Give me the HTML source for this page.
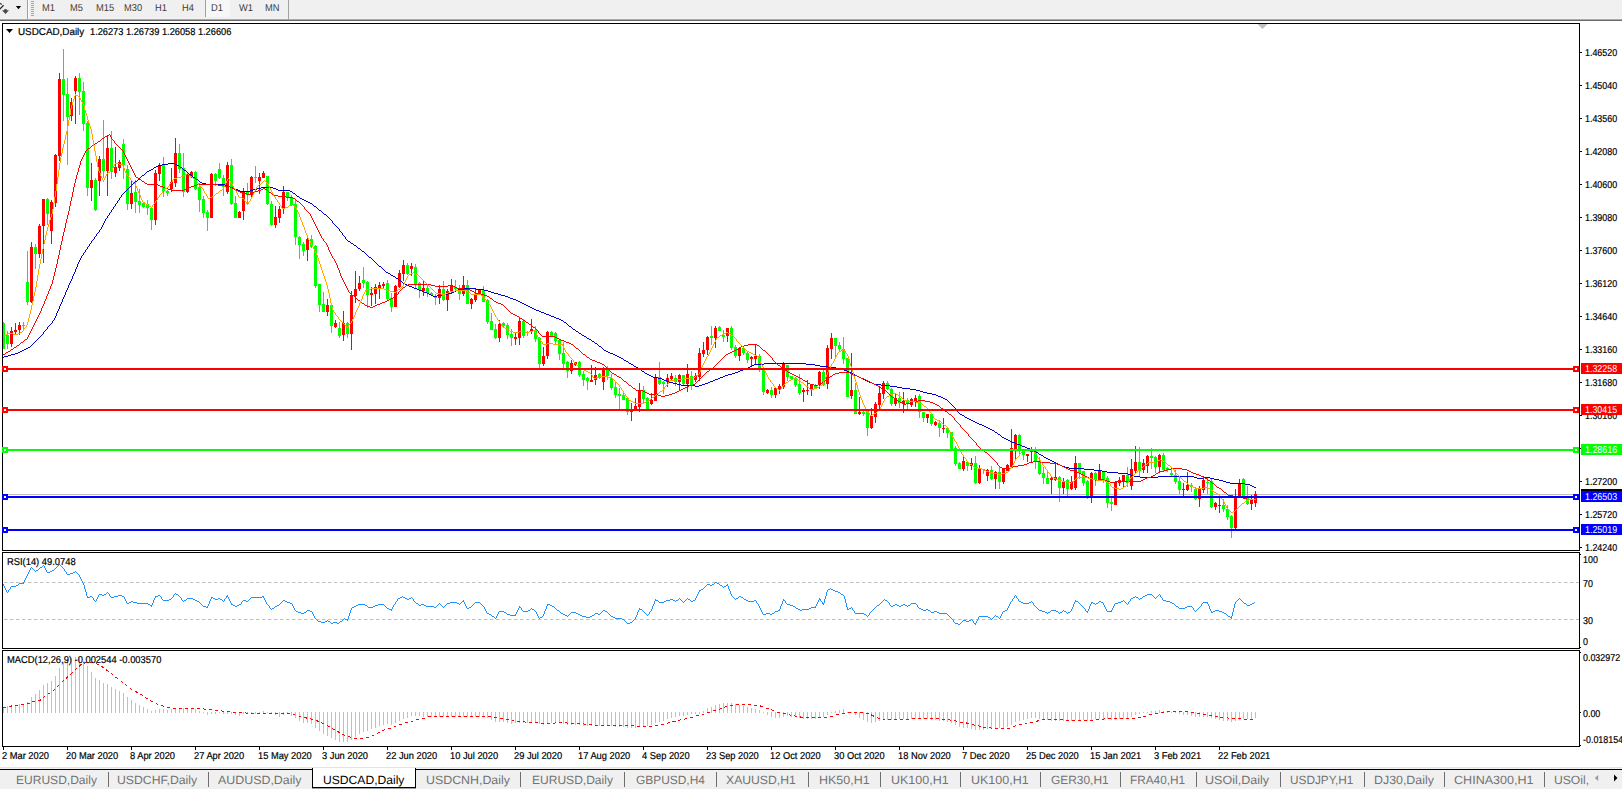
<!DOCTYPE html>
<html lang="en"><head><meta charset="utf-8"><title>USDCAD,Daily</title>
<style>
html,body{margin:0;padding:0;background:#fff;}
body{text-rendering:geometricPrecision;width:1622px;height:789px;overflow:hidden;position:relative;font-family:"Liberation Sans",sans-serif;font-size:9.3px;color:#000;}
#tb{position:absolute;left:0;top:0;width:1622px;height:18px;background:#f0f0f0;z-index:2;}
#tb span{position:absolute;top:2px;height:14px;line-height:14px;font-size:10px;transform:scaleX(0.93);transform-origin:0 0;color:#3c3c3c;white-space:nowrap;}
#tb .sep{position:absolute;top:0;width:1px;height:17px;background:#a0a0a0;z-index:3;}
#tbl1{position:absolute;left:0;top:18px;width:1622px;height:1px;background:#f4f4f4;}
#tbl2{position:absolute;left:0;top:19px;width:1622px;height:2px;background:linear-gradient(#a8a8a8 0,#a8a8a8 50%,#6c6c6c 50%,#6c6c6c 100%);}
.pane{position:absolute;left:2px;width:1576px;border:1px solid #000;background:#fff;box-sizing:content-box;}
.lbl{-webkit-text-stroke:0.2px #000;position:absolute;white-space:nowrap;font-size:10px;line-height:12px;height:12px;transform:scaleX(0.935);transform-origin:0 0;}
.ax{-webkit-text-stroke:0.2px #000;position:absolute;left:1585px;white-space:nowrap;font-size:10px;line-height:12px;height:12px;transform:scaleX(0.89);transform-origin:0 0;}
.tick{position:absolute;left:1580px;width:2px;height:1px;background:#000;}
.plab{position:absolute;left:1581px;width:41px;height:11px;color:#fff;white-space:nowrap;}
.plab span{position:absolute;left:4px;top:1px;font-size:10px;line-height:11px;transform:scaleX(0.89);transform-origin:0 0;}
.dt{-webkit-text-stroke:0.2px #000;position:absolute;top:751px;white-space:nowrap;font-size:10px;line-height:12px;transform:scaleX(0.93);transform-origin:0 0;}
.dtick{position:absolute;top:747px;width:1px;height:3px;background:#000;}
#tabs{position:absolute;left:0;top:767px;width:1622px;height:22px;background:#f0f0f0;}
#tabs .top1{position:absolute;left:0;top:0;width:1622px;height:1px;background:#e3e3e3;}
#tabs .top2{position:absolute;left:0;top:2px;width:1622px;height:1px;background:#000;}
#tabs .t{position:absolute;top:5px;transform-origin:0 0;height:17px;line-height:17px;font-size:12px;color:#737373;white-space:nowrap;}
#tabs .s{position:absolute;top:5px;width:1px;height:15px;background:#6e6e6e;}
#tabs .act{position:absolute;left:312px;top:1px;width:102px;height:19px;background:#fff;border:1px solid #000;border-top:none;box-sizing:content-box;box-shadow:0 1px 0 #a0a0a0;}
svg{position:absolute;left:0;top:0;}
</style></head><body>
<div id="tb">
<svg width="40" height="19" viewBox="0 0 40 19"><path d="M-0.5 9.3 L3.6 5.3" stroke="#2a2a2a" stroke-width="1.3" fill="none"/><path d="M0 3.2 L1.8 4.4" stroke="#3a3a3a" stroke-width="1.2" fill="none"/><path d="M2 10.2 L4.4 10.2 L4.4 9 L6.6 9 L6.6 10.2 L9 10.2 L5.5 13.9 Z" fill="#484848"/><path d="M15.9 6 L21.1 6 L18.5 9.2 Z" fill="#000"/></svg>
<div class="sep" style="left:27px;height:19px"></div><div class="sep" style="left:28px;height:18px;background:#fff"></div>
<svg width="40" height="19" viewBox="0 0 40 19" style="left:0"><g stroke="#a6a6a6" stroke-width="1"><line x1="31" x2="34" y1="1.5" y2="1.5"/><line x1="31" x2="34" y1="3.5" y2="3.5"/><line x1="31" x2="34" y1="5.5" y2="5.5"/><line x1="31" x2="34" y1="7.5" y2="7.5"/><line x1="31" x2="34" y1="9.5" y2="9.5"/><line x1="31" x2="34" y1="11.5" y2="11.5"/><line x1="31" x2="34" y1="13.5" y2="13.5"/><line x1="31" x2="34" y1="15.5" y2="15.5"/></g></svg>
<div style="position:absolute;left:206px;top:0;width:24px;height:17px;background:#f7f7f7;"></div>
<div class="sep" style="left:205px"></div>
<div class="sep" style="left:288px;height:19px"></div>
<span style="left:42px">M1</span>
<span style="left:70px">M5</span>
<span style="left:96px">M15</span>
<span style="left:124px">M30</span>
<span style="left:155px">H1</span>
<span style="left:182px">H4</span>
<span style="left:211px">D1</span>
<span style="left:239px">W1</span>
<span style="left:265px">MN</span>
</div><div id="tbl1"></div><div id="tbl2"></div>
<div class="pane" style="top:23px;height:526px"></div>
<div class="pane" style="top:552px;height:95px"></div>
<div class="pane" style="top:650px;height:95px"></div>
<svg width="1622" height="789" viewBox="0 0 1622 789" shape-rendering="crispEdges">
<defs><clipPath id="cm"><rect x="3" y="24" width="1576" height="526"/></clipPath><clipPath id="cr"><rect x="3" y="553" width="1576" height="95"/></clipPath><clipPath id="cd"><rect x="3" y="651" width="1576" height="95"/></clipPath></defs>
<g clip-path="url(#cm)">
<rect x="3" y="494" width="1576" height="1" fill="#c0c0c0"/>
<path fill="#00ff00" d="M3 322h1V349h-1zM7 331h1V349h-1zM23 322h1V329h-1zM27 251h1V305h-1zM35 244h1V269h-1zM47 198h1V225h-1zM63 49h1V121h-1zM67 78h1V165h-1zM79 73h1V115h-1zM83 82h1V131h-1zM87 121h1V196h-1zM95 178h1V211h-1zM103 120h1V178h-1zM111 131h1V179h-1zM123 139h1V179h-1zM127 165h1V210h-1zM135 180h1V213h-1zM139 189h1V213h-1zM143 202h1V208h-1zM147 200h1V215h-1zM151 207h1V230h-1zM163 157h1V197h-1zM167 190h1V196h-1zM179 144h1V173h-1zM183 153h1V197h-1zM195 171h1V190h-1zM199 183h1V212h-1zM203 196h1V218h-1zM207 210h1V231h-1zM215 173h1V186h-1zM219 163h1V179h-1zM223 175h1V196h-1zM231 159h1V205h-1zM235 196h1V218h-1zM247 183h1V204h-1zM255 166h1V183h-1zM267 176h1V205h-1zM271 201h1V226h-1zM287 192h1V201h-1zM291 195h1V206h-1zM295 200h1V245h-1zM299 236h1V259h-1zM303 242h1V256h-1zM311 235h1V248h-1zM315 245h1V288h-1zM319 284h1V312h-1zM323 292h1V312h-1zM331 304h1V333h-1zM339 322h1V338h-1zM347 322h1V338h-1zM363 267h1V288h-1zM367 281h1V308h-1zM387 280h1V300h-1zM391 293h1V312h-1zM407 263h1V275h-1zM415 264h1V288h-1zM419 282h1V298h-1zM427 284h1V297h-1zM431 292h1V296h-1zM435 294h1V305h-1zM443 281h1V301h-1zM455 280h1V290h-1zM459 285h1V300h-1zM467 280h1V304h-1zM483 286h1V302h-1zM487 299h1V324h-1zM491 313h1V330h-1zM495 324h1V339h-1zM503 322h1V327h-1zM507 323h1V339h-1zM511 329h1V346h-1zM523 319h1V338h-1zM527 331h1V336h-1zM535 326h1V342h-1zM539 337h1V368h-1zM551 331h1V336h-1zM555 332h1V344h-1zM559 339h1V360h-1zM563 342h1V368h-1zM567 361h1V378h-1zM579 361h1V377h-1zM583 371h1V386h-1zM587 377h1V390h-1zM599 373h1V379h-1zM607 366h1V380h-1zM611 374h1V390h-1zM615 382h1V398h-1zM619 388h1V409h-1zM623 391h1V400h-1zM627 397h1V415h-1zM643 386h1V403h-1zM647 397h1V409h-1zM659 362h1V385h-1zM663 381h1V394h-1zM675 375h1V386h-1zM683 375h1V385h-1zM691 371h1V390h-1zM711 326h1V345h-1zM719 326h1V331h-1zM723 330h1V342h-1zM731 326h1V350h-1zM735 345h1V358h-1zM743 347h1V355h-1zM747 352h1V363h-1zM759 354h1V372h-1zM763 369h1V395h-1zM771 387h1V398h-1zM787 365h1V381h-1zM791 376h1V380h-1zM795 377h1V387h-1zM799 374h1V395h-1zM815 384h1V388h-1zM823 370h1V386h-1zM835 338h1V357h-1zM839 342h1V352h-1zM843 337h1V364h-1zM847 358h1V397h-1zM855 383h1V414h-1zM863 411h1V416h-1zM867 410h1V436h-1zM887 381h1V390h-1zM891 388h1V406h-1zM899 392h1V408h-1zM907 398h1V411h-1zM919 394h1V418h-1zM923 412h1V422h-1zM931 414h1V426h-1zM939 420h1V437h-1zM947 428h1V438h-1zM951 432h1V449h-1zM955 446h1V466h-1zM959 462h1V469h-1zM967 461h1V471h-1zM975 456h1V484h-1zM983 469h1V474h-1zM991 466h1V480h-1zM999 467h1V489h-1zM1019 434h1V454h-1zM1023 450h1V460h-1zM1035 447h1V469h-1zM1039 457h1V475h-1zM1043 467h1V484h-1zM1047 470h1V484h-1zM1059 476h1V502h-1zM1067 479h1V496h-1zM1079 463h1V479h-1zM1083 471h1V486h-1zM1087 480h1V499h-1zM1095 472h1V486h-1zM1103 471h1V483h-1zM1107 476h1V508h-1zM1111 497h1V511h-1zM1127 467h1V487h-1zM1139 447h1V477h-1zM1151 448h1V469h-1zM1155 456h1V473h-1zM1163 453h1V471h-1zM1167 467h1V472h-1zM1171 469h1V477h-1zM1175 470h1V484h-1zM1179 477h1V494h-1zM1191 483h1V492h-1zM1195 487h1V500h-1zM1207 478h1V494h-1zM1211 479h1V508h-1zM1223 499h1V512h-1zM1227 505h1V520h-1zM1231 515h1V538h-1zM1243 478h1V499h-1zM1247 486h1V505h-1zM2 323h3V349h-3zM6 335h3V344h-3zM22 325h3V326h-3zM26 282h3V302h-3zM34 247h3V254h-3zM46 199h3V214h-3zM62 79h3V95h-3zM66 94h3V117h-3zM78 78h3V92h-3zM82 91h3V124h-3zM86 123h3V188h-3zM94 180h3V210h-3zM102 159h3V171h-3zM110 148h3V172h-3zM122 144h3V165h-3zM126 169h3V204h-3zM134 192h3V202h-3zM138 201h3V205h-3zM142 203h3V207h-3zM146 204h3V208h-3zM150 208h3V220h-3zM162 165h3V191h-3zM166 191h3V193h-3zM178 153h3V169h-3zM182 168h3V192h-3zM194 172h3V189h-3zM198 187h3V200h-3zM202 199h3V213h-3zM206 212h3V218h-3zM214 174h3V181h-3zM218 169h3V178h-3zM222 178h3V187h-3zM230 165h3V204h-3zM234 203h3V218h-3zM246 192h3V195h-3zM254 177h3V178h-3zM266 176h3V204h-3zM270 204h3V225h-3zM286 192h3V198h-3zM290 198h3V205h-3zM294 204h3V237h-3zM298 237h3V245h-3zM302 244h3V251h-3zM310 239h3V247h-3zM314 246h3V286h-3zM318 284h3V305h-3zM322 304h3V312h-3zM330 305h3V326h-3zM338 328h3V336h-3zM346 323h3V334h-3zM362 280h3V283h-3zM366 282h3V295h-3zM386 283h3V299h-3zM390 298h3V307h-3zM406 265h3V274h-3zM414 267h3V284h-3zM418 283h3V290h-3zM426 288h3V293h-3zM430 293h3V295h-3zM434 296h3V298h-3zM442 289h3V300h-3zM454 287h3V289h-3zM458 289h3V294h-3zM466 285h3V304h-3zM482 290h3V302h-3zM486 300h3V322h-3zM490 321h3V330h-3zM494 329h3V338h-3zM502 323h3V326h-3zM506 325h3V335h-3zM510 334h3V338h-3zM522 321h3V336h-3zM526 332h3V333h-3zM534 330h3V339h-3zM538 338h3V364h-3zM550 332h3V336h-3zM554 333h3V341h-3zM558 340h3V354h-3zM562 353h3V364h-3zM566 362h3V371h-3zM578 362h3V375h-3zM582 374h3V380h-3zM586 378h3V381h-3zM598 374h3V378h-3zM606 370h3V376h-3zM610 378h3V388h-3zM614 387h3V395h-3zM618 394h3V396h-3zM622 395h3V400h-3zM626 398h3V412h-3zM642 390h3V399h-3zM646 398h3V409h-3zM658 377h3V384h-3zM662 382h3V384h-3zM674 378h3V382h-3zM682 375h3V384h-3zM690 376h3V385h-3zM710 336h3V338h-3zM718 327h3V331h-3zM722 335h3V337h-3zM730 328h3V348h-3zM734 347h3V356h-3zM742 348h3V353h-3zM746 353h3V360h-3zM758 356h3V370h-3zM762 370h3V392h-3zM770 390h3V395h-3zM786 365h3V377h-3zM790 376h3V379h-3zM794 378h3V385h-3zM798 384h3V393h-3zM814 385h3V388h-3zM822 372h3V385h-3zM834 338h3V346h-3zM838 345h3V349h-3zM842 349h3V359h-3zM846 358h3V397h-3zM854 390h3V414h-3zM862 412h3V414h-3zM866 411h3V428h-3zM886 383h3V389h-3zM890 389h3V404h-3zM898 398h3V403h-3zM906 400h3V404h-3zM918 396h3V412h-3zM922 412h3V418h-3zM930 414h3V424h-3zM938 423h3V428h-3zM946 428h3V433h-3zM950 432h3V449h-3zM954 448h3V464h-3zM958 463h3V469h-3zM966 462h3V466h-3zM974 463h3V483h-3zM982 469h3V470h-3zM990 470h3V479h-3zM998 472h3V482h-3zM1018 435h3V449h-3zM1022 451h3V455h-3zM1034 451h3V462h-3zM1038 462h3V474h-3zM1042 473h3V478h-3zM1046 478h3V484h-3zM1058 477h3V488h-3zM1066 480h3V489h-3zM1078 463h3V473h-3zM1082 471h3V483h-3zM1086 481h3V496h-3zM1094 473h3V480h-3zM1102 472h3V480h-3zM1106 478h3V503h-3zM1110 502h3V504h-3zM1126 475h3V483h-3zM1138 462h3V471h-3zM1150 456h3V458h-3zM1154 457h3V467h-3zM1162 455h3V470h-3zM1166 468h3V470h-3zM1170 473h3V475h-3zM1174 475h3V482h-3zM1178 481h3V490h-3zM1190 485h3V487h-3zM1194 489h3V499h-3zM1206 482h3V483h-3zM1210 481h3V507h-3zM1222 505h3V509h-3zM1226 509h3V517h-3zM1230 516h3V528h-3zM1242 479h3V498h-3zM1246 498h3V504h-3z"/>
<path fill="#ff0000" d="M11 327h1V347h-1zM15 323h1V334h-1zM19 322h1V335h-1zM31 242h1V303h-1zM39 224h1V258h-1zM43 199h1V263h-1zM51 200h1V244h-1zM55 154h1V207h-1zM59 73h1V161h-1zM71 98h1V121h-1zM75 76h1V124h-1zM91 163h1V201h-1zM99 156h1V196h-1zM107 136h1V196h-1zM115 147h1V177h-1zM119 160h1V171h-1zM131 180h1V209h-1zM155 170h1V225h-1zM159 163h1V181h-1zM171 168h1V192h-1zM175 138h1V187h-1zM187 172h1V193h-1zM191 171h1V178h-1zM211 173h1V218h-1zM227 162h1V194h-1zM239 211h1V218h-1zM243 188h1V220h-1zM251 176h1V197h-1zM259 173h1V194h-1zM263 171h1V178h-1zM275 206h1V228h-1zM279 206h1V223h-1zM283 186h1V214h-1zM307 237h1V261h-1zM327 299h1V316h-1zM335 320h1V328h-1zM343 311h1V341h-1zM351 291h1V350h-1zM355 271h1V303h-1zM359 276h1V291h-1zM371 287h1V306h-1zM375 284h1V304h-1zM379 282h1V299h-1zM383 282h1V289h-1zM395 285h1V307h-1zM399 270h1V288h-1zM403 260h1V281h-1zM411 263h1V276h-1zM423 281h1V296h-1zM439 285h1V304h-1zM447 289h1V311h-1zM451 279h1V294h-1zM463 276h1V296h-1zM471 298h1V309h-1zM475 289h1V302h-1zM479 290h1V295h-1zM499 320h1V342h-1zM515 332h1V345h-1zM519 317h1V345h-1zM531 319h1V334h-1zM543 347h1V366h-1zM547 331h1V359h-1zM571 360h1V374h-1zM575 362h1V366h-1zM591 365h1V382h-1zM595 367h1V385h-1zM603 367h1V390h-1zM631 403h1V421h-1zM635 398h1V410h-1zM639 383h1V412h-1zM651 393h1V405h-1zM655 374h1V401h-1zM667 374h1V387h-1zM671 373h1V380h-1zM679 374h1V390h-1zM687 364h1V392h-1zM695 373h1V382h-1zM699 348h1V381h-1zM703 342h1V357h-1zM707 336h1V355h-1zM715 326h1V348h-1zM727 328h1V342h-1zM739 347h1V361h-1zM751 356h1V366h-1zM755 344h1V364h-1zM767 389h1V394h-1zM775 388h1V398h-1zM779 384h1V394h-1zM783 362h1V389h-1zM803 388h1V402h-1zM807 380h1V395h-1zM811 385h1V396h-1zM819 371h1V389h-1zM827 345h1V389h-1zM831 333h1V359h-1zM851 353h1V399h-1zM859 397h1V415h-1zM871 408h1V429h-1zM875 402h1V423h-1zM879 386h1V409h-1zM883 381h1V399h-1zM895 393h1V406h-1zM903 392h1V413h-1zM911 398h1V407h-1zM915 395h1V407h-1zM927 414h1V423h-1zM935 421h1V426h-1zM943 418h1V433h-1zM963 456h1V471h-1zM971 458h1V470h-1zM979 465h1V484h-1zM987 469h1V481h-1zM995 471h1V489h-1zM1003 468h1V484h-1zM1007 464h1V471h-1zM1011 429h1V468h-1zM1015 434h1V460h-1zM1027 454h1V462h-1zM1031 447h1V463h-1zM1051 476h1V494h-1zM1055 463h1V481h-1zM1063 478h1V494h-1zM1071 476h1V490h-1zM1075 456h1V490h-1zM1091 472h1V503h-1zM1099 464h1V481h-1zM1115 481h1V505h-1zM1119 477h1V486h-1zM1123 475h1V488h-1zM1131 459h1V490h-1zM1135 446h1V474h-1zM1143 459h1V473h-1zM1147 455h1V473h-1zM1159 454h1V472h-1zM1183 483h1V496h-1zM1187 472h1V491h-1zM1199 486h1V507h-1zM1203 476h1V493h-1zM1215 502h1V510h-1zM1219 496h1V513h-1zM1235 489h1V529h-1zM1239 479h1V496h-1zM1251 495h1V510h-1zM1255 491h1V507h-1zM10 331h3V344h-3zM14 330h3V332h-3zM18 325h3V330h-3zM30 247h3V302h-3zM38 226h3V254h-3zM42 199h3V226h-3zM50 202h3V231h-3zM54 155h3V203h-3zM58 79h3V156h-3zM70 102h3V116h-3zM74 78h3V91h-3zM90 180h3V188h-3zM98 159h3V181h-3zM106 148h3V171h-3zM114 167h3V173h-3zM118 162h3V168h-3zM130 193h3V204h-3zM154 173h3V220h-3zM158 166h3V174h-3zM170 182h3V189h-3zM174 153h3V183h-3zM186 175h3V192h-3zM190 172h3V177h-3zM210 174h3V218h-3zM226 165h3V192h-3zM238 212h3V218h-3zM242 192h3V211h-3zM250 177h3V195h-3zM258 177h3V181h-3zM262 173h3V178h-3zM274 217h3V225h-3zM278 209h3V218h-3zM282 192h3V209h-3zM306 239h3V250h-3zM326 305h3V312h-3zM334 323h3V327h-3zM342 323h3V335h-3zM350 295h3V334h-3zM354 289h3V296h-3zM358 283h3V289h-3zM370 293h3V295h-3zM374 287h3V294h-3zM378 285h3V288h-3zM382 284h3V286h-3zM394 286h3V307h-3zM398 273h3V287h-3zM402 265h3V274h-3zM410 266h3V269h-3zM422 288h3V291h-3zM438 289h3V298h-3zM446 291h3V300h-3zM450 286h3V292h-3zM462 285h3V294h-3zM470 299h3V304h-3zM474 294h3V300h-3zM478 290h3V294h-3zM498 324h3V338h-3zM514 337h3V339h-3zM518 321h3V338h-3zM530 329h3V331h-3zM542 356h3V364h-3zM546 332h3V356h-3zM570 363h3V371h-3zM574 362h3V365h-3zM590 380h3V382h-3zM594 375h3V380h-3zM602 368h3V382h-3zM630 409h3V412h-3zM634 406h3V410h-3zM638 390h3V407h-3zM650 400h3V404h-3zM654 378h3V401h-3zM666 378h3V382h-3zM670 376h3V379h-3zM678 375h3V382h-3zM686 374h3V384h-3zM694 376h3V380h-3zM698 353h3V377h-3zM702 350h3V354h-3zM706 337h3V350h-3zM714 328h3V338h-3zM726 328h3V336h-3zM738 348h3V356h-3zM750 357h3V359h-3zM754 356h3V359h-3zM766 390h3V393h-3zM774 388h3V395h-3zM778 386h3V390h-3zM782 364h3V387h-3zM802 390h3V392h-3zM806 390h3V391h-3zM810 385h3V389h-3zM818 372h3V385h-3zM826 348h3V384h-3zM830 338h3V349h-3zM850 390h3V396h-3zM858 412h3V414h-3zM870 416h3V428h-3zM874 404h3V417h-3zM878 393h3V405h-3zM882 383h3V394h-3zM894 398h3V404h-3zM902 401h3V404h-3zM910 399h3V405h-3zM914 398h3V401h-3zM926 414h3V418h-3zM934 422h3V425h-3zM942 428h3V429h-3zM962 461h3V469h-3zM970 463h3V466h-3zM978 469h3V483h-3zM986 470h3V476h-3zM994 472h3V479h-3zM1002 469h3V482h-3zM1006 465h3V471h-3zM1010 448h3V467h-3zM1014 435h3V449h-3zM1026 454h3V456h-3zM1030 450h3V452h-3zM1050 478h3V480h-3zM1054 477h3V480h-3zM1062 482h3V488h-3zM1070 482h3V489h-3zM1074 463h3V488h-3zM1090 473h3V496h-3zM1098 471h3V481h-3zM1114 482h3V505h-3zM1118 480h3V483h-3zM1122 475h3V482h-3zM1130 469h3V486h-3zM1134 462h3V471h-3zM1142 463h3V470h-3zM1146 456h3V466h-3zM1158 455h3V467h-3zM1182 489h3V490h-3zM1186 485h3V490h-3zM1198 489h3V499h-3zM1202 480h3V490h-3zM1214 503h3V507h-3zM1218 505h3V506h-3zM1234 496h3V528h-3zM1238 484h3V496h-3zM1250 500h3V504h-3zM1254 494h3V503h-3z"/>
<path fill="#0000cd" d="M43 332h1v2h-1zM47 327h1v2h-1zM52 321h1v2h-1zM54 318h1v2h-1zM55 316h1v2h-1zM56 313h1v3h-1zM57 311h1v2h-1zM58 309h1v2h-1zM59 306h1v3h-1zM60 304h1v2h-1zM61 302h1v2h-1zM62 299h1v3h-1zM63 297h1v2h-1zM64 295h1v2h-1zM65 292h1v3h-1zM66 290h1v2h-1zM67 288h1v2h-1zM68 285h1v3h-1zM69 283h1v2h-1zM70 281h1v2h-1zM71 279h1v2h-1zM72 276h1v3h-1zM73 274h1v2h-1zM74 272h1v2h-1zM75 269h1v3h-1zM76 267h1v2h-1zM77 264h1v3h-1zM78 262h1v2h-1zM79 260h1v2h-1zM80 258h1v2h-1zM81 256h1v2h-1zM83 253h1v2h-1zM85 250h1v2h-1zM87 247h1v2h-1zM89 244h1v2h-1zM91 241h1v2h-1zM94 237h1v2h-1zM96 234h1v2h-1zM99 230h1v2h-1zM101 227h1v2h-1zM102 225h1v2h-1zM103 223h1v2h-1zM104 221h1v2h-1zM105 219h1v2h-1zM107 216h1v2h-1zM109 213h1v2h-1zM111 210h1v2h-1zM113 207h1v2h-1zM115 204h1v2h-1zM117 201h1v2h-1zM119 198h1v2h-1zM121 195h1v2h-1zM332 221h1v2h-1zM339 229h1v2h-1zM342 233h1v2h-1zM345 237h1v2h-1zM956 409h1v2h-1zM168 163h7v1h-7zM162 164h6v1h-6zM175 164h2v1h-2zM158 165h4v1h-4zM177 165h2v1h-2zM156 166h2v1h-2zM179 166h1v1h-1zM154 167h2v1h-2zM180 167h2v1h-2zM153 168h1v1h-1zM182 168h1v1h-1zM151 169h2v1h-2zM183 169h1v1h-1zM149 170h2v1h-2zM184 170h2v1h-2zM147 171h2v1h-2zM186 171h1v1h-1zM146 172h1v1h-1zM187 172h1v1h-1zM145 173h1v1h-1zM188 173h1v1h-1zM144 174h1v1h-1zM189 174h2v1h-2zM142 175h2v1h-2zM191 175h1v1h-1zM141 176h1v1h-1zM192 176h1v1h-1zM140 177h1v1h-1zM193 177h2v1h-2zM139 178h1v1h-1zM195 178h1v1h-1zM138 179h1v1h-1zM196 179h2v1h-2zM137 180h1v1h-1zM198 180h1v1h-1zM135 181h2v1h-2zM199 181h1v1h-1zM134 182h1v1h-1zM200 182h2v1h-2zM133 183h1v1h-1zM202 183h4v1h-4zM132 184h1v1h-1zM206 184h19v1h-19zM131 185h1v1h-1zM225 185h3v1h-3zM130 186h1v1h-1zM228 186h2v1h-2zM129 187h1v1h-1zM230 187h3v1h-3zM261 187h12v1h-12zM128 188h1v1h-1zM233 188h2v1h-2zM257 188h4v1h-4zM273 188h3v1h-3zM127 189h1v1h-1zM235 189h3v1h-3zM253 189h4v1h-4zM276 189h2v1h-2zM126 190h1v1h-1zM238 190h2v1h-2zM250 190h3v1h-3zM278 190h12v1h-12zM125 191h1v1h-1zM240 191h10v1h-10zM290 191h2v1h-2zM124 192h1v1h-1zM292 192h1v1h-1zM123 193h1v1h-1zM293 193h2v1h-2zM122 194h1v1h-1zM295 194h1v1h-1zM296 195h1v1h-1zM297 196h2v1h-2zM120 197h1v1h-1zM299 197h1v1h-1zM300 198h2v1h-2zM302 199h2v1h-2zM118 200h1v1h-1zM304 200h2v1h-2zM306 201h2v1h-2zM308 202h2v1h-2zM116 203h1v1h-1zM310 203h2v1h-2zM312 204h1v1h-1zM313 205h1v1h-1zM114 206h1v1h-1zM314 206h2v1h-2zM316 207h1v1h-1zM317 208h1v1h-1zM112 209h1v1h-1zM318 209h1v1h-1zM319 210h2v1h-2zM321 211h1v1h-1zM110 212h1v1h-1zM322 212h1v1h-1zM323 213h1v1h-1zM324 214h2v1h-2zM108 215h1v1h-1zM326 215h1v1h-1zM327 216h1v1h-1zM328 217h1v1h-1zM106 218h1v1h-1zM329 218h1v1h-1zM330 219h1v1h-1zM331 220h1v1h-1zM333 223h1v1h-1zM334 224h1v1h-1zM335 225h1v1h-1zM336 226h1v1h-1zM337 227h1v1h-1zM338 228h1v1h-1zM100 229h1v1h-1zM340 231h1v1h-1zM98 232h1v1h-1zM341 232h1v1h-1zM97 233h1v1h-1zM343 235h1v1h-1zM95 236h1v1h-1zM344 236h1v1h-1zM93 239h1v1h-1zM346 239h1v1h-1zM92 240h1v1h-1zM347 240h1v1h-1zM348 241h2v1h-2zM350 242h1v1h-1zM90 243h1v1h-1zM351 243h2v1h-2zM353 244h1v1h-1zM354 245h2v1h-2zM88 246h1v1h-1zM356 246h1v1h-1zM357 247h1v1h-1zM358 248h2v1h-2zM86 249h1v1h-1zM360 249h1v1h-1zM361 250h1v1h-1zM362 251h2v1h-2zM84 252h1v1h-1zM364 252h1v1h-1zM365 253h1v1h-1zM366 254h1v1h-1zM82 255h1v1h-1zM367 255h1v1h-1zM368 256h1v1h-1zM369 257h2v1h-2zM371 258h1v1h-1zM372 259h1v1h-1zM373 260h1v1h-1zM374 261h1v1h-1zM375 262h1v1h-1zM376 263h1v1h-1zM377 264h1v1h-1zM378 265h1v1h-1zM379 266h2v1h-2zM381 267h1v1h-1zM382 268h1v1h-1zM383 269h1v1h-1zM384 270h1v1h-1zM385 271h1v1h-1zM386 272h2v1h-2zM388 273h2v1h-2zM390 274h1v1h-1zM391 275h2v1h-2zM393 276h2v1h-2zM395 277h1v1h-1zM396 278h2v1h-2zM398 279h1v1h-1zM399 280h2v1h-2zM401 281h1v1h-1zM402 282h1v1h-1zM403 283h2v1h-2zM405 284h2v1h-2zM407 285h2v1h-2zM409 286h3v1h-3zM412 287h2v1h-2zM414 288h3v1h-3zM464 288h12v1h-12zM417 289h2v1h-2zM458 289h6v1h-6zM476 289h8v1h-8zM419 290h3v1h-3zM456 290h2v1h-2zM484 290h4v1h-4zM422 291h2v1h-2zM454 291h2v1h-2zM488 291h3v1h-3zM424 292h3v1h-3zM452 292h2v1h-2zM491 292h3v1h-3zM427 293h2v1h-2zM448 293h4v1h-4zM494 293h4v1h-4zM429 294h2v1h-2zM442 294h6v1h-6zM498 294h3v1h-3zM431 295h2v1h-2zM437 295h5v1h-5zM501 295h4v1h-4zM433 296h4v1h-4zM505 296h3v1h-3zM508 297h2v1h-2zM510 298h3v1h-3zM513 299h3v1h-3zM516 300h2v1h-2zM518 301h2v1h-2zM520 302h2v1h-2zM522 303h2v1h-2zM524 304h2v1h-2zM526 305h2v1h-2zM528 306h2v1h-2zM530 307h2v1h-2zM532 308h2v1h-2zM534 309h2v1h-2zM536 310h3v1h-3zM539 311h2v1h-2zM541 312h3v1h-3zM544 313h2v1h-2zM546 314h3v1h-3zM549 315h2v1h-2zM551 316h3v1h-3zM554 317h2v1h-2zM556 318h3v1h-3zM559 319h2v1h-2zM53 320h1v1h-1zM561 320h2v1h-2zM563 321h1v1h-1zM564 322h2v1h-2zM51 323h1v1h-1zM566 323h1v1h-1zM50 324h1v1h-1zM567 324h1v1h-1zM49 325h1v1h-1zM568 325h1v1h-1zM48 326h1v1h-1zM569 326h2v1h-2zM571 327h1v1h-1zM572 328h1v1h-1zM46 329h1v1h-1zM573 329h2v1h-2zM45 330h1v1h-1zM575 330h1v1h-1zM44 331h1v1h-1zM576 331h2v1h-2zM578 332h1v1h-1zM579 333h2v1h-2zM42 334h1v1h-1zM581 334h1v1h-1zM41 335h1v1h-1zM582 335h2v1h-2zM40 336h1v1h-1zM584 336h2v1h-2zM39 337h1v1h-1zM586 337h1v1h-1zM38 338h1v1h-1zM587 338h2v1h-2zM37 339h1v1h-1zM589 339h2v1h-2zM36 340h1v1h-1zM591 340h1v1h-1zM35 341h1v1h-1zM592 341h2v1h-2zM34 342h1v1h-1zM594 342h1v1h-1zM33 343h1v1h-1zM595 343h2v1h-2zM32 344h1v1h-1zM597 344h1v1h-1zM31 345h1v1h-1zM598 345h1v1h-1zM30 346h1v1h-1zM599 346h2v1h-2zM28 347h2v1h-2zM601 347h1v1h-1zM26 348h2v1h-2zM602 348h1v1h-1zM24 349h2v1h-2zM603 349h1v1h-1zM22 350h2v1h-2zM604 350h2v1h-2zM20 351h2v1h-2zM606 351h2v1h-2zM18 352h2v1h-2zM608 352h2v1h-2zM15 353h3v1h-3zM610 353h3v1h-3zM11 354h4v1h-4zM613 354h2v1h-2zM8 355h3v1h-3zM615 355h2v1h-2zM4 356h4v1h-4zM617 356h2v1h-2zM2 357h2v1h-2zM619 357h2v1h-2zM621 358h2v1h-2zM623 359h1v1h-1zM624 360h2v1h-2zM626 361h2v1h-2zM628 362h1v1h-1zM629 363h2v1h-2zM764 363h42v1h-42zM631 364h2v1h-2zM754 364h10v1h-10zM806 364h9v1h-9zM633 365h1v1h-1zM752 365h2v1h-2zM815 365h5v1h-5zM634 366h2v1h-2zM750 366h2v1h-2zM820 366h8v1h-8zM636 367h2v1h-2zM748 367h2v1h-2zM828 367h8v1h-8zM638 368h1v1h-1zM745 368h3v1h-3zM836 368h4v1h-4zM639 369h2v1h-2zM743 369h2v1h-2zM840 369h4v1h-4zM641 370h1v1h-1zM740 370h3v1h-3zM844 370h3v1h-3zM642 371h2v1h-2zM738 371h2v1h-2zM847 371h2v1h-2zM644 372h1v1h-1zM735 372h3v1h-3zM849 372h2v1h-2zM645 373h2v1h-2zM732 373h3v1h-3zM851 373h2v1h-2zM647 374h2v1h-2zM728 374h4v1h-4zM853 374h2v1h-2zM649 375h2v1h-2zM725 375h3v1h-3zM855 375h2v1h-2zM651 376h2v1h-2zM723 376h2v1h-2zM857 376h2v1h-2zM653 377h5v1h-5zM720 377h3v1h-3zM859 377h2v1h-2zM658 378h4v1h-4zM718 378h2v1h-2zM861 378h2v1h-2zM662 379h2v1h-2zM715 379h3v1h-3zM863 379h2v1h-2zM664 380h3v1h-3zM713 380h2v1h-2zM865 380h2v1h-2zM667 381h2v1h-2zM710 381h3v1h-3zM867 381h2v1h-2zM669 382h4v1h-4zM708 382h2v1h-2zM869 382h3v1h-3zM673 383h4v1h-4zM705 383h3v1h-3zM872 383h2v1h-2zM677 384h4v1h-4zM702 384h3v1h-3zM874 384h7v1h-7zM681 385h14v1h-14zM699 385h3v1h-3zM881 385h9v1h-9zM695 386h4v1h-4zM890 386h7v1h-7zM897 387h5v1h-5zM902 388h8v1h-8zM910 389h6v1h-6zM916 390h4v1h-4zM920 391h3v1h-3zM923 392h4v1h-4zM927 393h5v1h-5zM932 394h4v1h-4zM936 395h2v1h-2zM938 396h3v1h-3zM941 397h2v1h-2zM943 398h2v1h-2zM945 399h2v1h-2zM947 400h1v1h-1zM948 401h1v1h-1zM949 402h1v1h-1zM950 403h1v1h-1zM951 404h1v1h-1zM952 405h1v1h-1zM953 406h1v1h-1zM954 407h1v1h-1zM955 408h1v1h-1zM957 411h1v1h-1zM958 412h1v1h-1zM959 413h1v1h-1zM960 414h2v1h-2zM962 415h2v1h-2zM964 416h1v1h-1zM965 417h2v1h-2zM967 418h2v1h-2zM969 419h2v1h-2zM971 420h2v1h-2zM973 421h2v1h-2zM975 422h2v1h-2zM977 423h2v1h-2zM979 424h3v1h-3zM982 425h2v1h-2zM984 426h2v1h-2zM986 427h2v1h-2zM988 428h2v1h-2zM990 429h2v1h-2zM992 430h2v1h-2zM994 431h1v1h-1zM995 432h2v1h-2zM997 433h1v1h-1zM998 434h2v1h-2zM1000 435h1v1h-1zM1001 436h1v1h-1zM1002 437h2v1h-2zM1004 438h2v1h-2zM1006 439h2v1h-2zM1008 440h2v1h-2zM1010 441h2v1h-2zM1012 442h3v1h-3zM1015 443h2v1h-2zM1017 444h3v1h-3zM1020 445h2v1h-2zM1022 446h3v1h-3zM1025 447h2v1h-2zM1027 448h3v1h-3zM1030 449h2v1h-2zM1032 450h2v1h-2zM1034 451h2v1h-2zM1036 452h2v1h-2zM1038 453h1v1h-1zM1039 454h2v1h-2zM1041 455h2v1h-2zM1043 456h1v1h-1zM1044 457h2v1h-2zM1046 458h2v1h-2zM1048 459h2v1h-2zM1050 460h2v1h-2zM1052 461h2v1h-2zM1054 462h2v1h-2zM1056 463h2v1h-2zM1058 464h2v1h-2zM1060 465h2v1h-2zM1062 466h3v1h-3zM1065 467h4v1h-4zM1069 468h15v1h-15zM1084 469h10v1h-10zM1094 470h8v1h-8zM1102 471h5v1h-5zM1107 472h11v1h-11zM1118 473h10v1h-10zM1128 474h3v1h-3zM1131 475h3v1h-3zM1134 476h6v1h-6zM1158 476h36v1h-36zM1140 477h18v1h-18zM1194 477h3v1h-3zM1203 477h7v1h-7zM1197 478h6v1h-6zM1210 478h4v1h-4zM1214 479h5v1h-5zM1219 480h4v1h-4zM1223 481h3v1h-3zM1226 482h4v1h-4zM1230 483h15v1h-15zM1245 484h5v1h-5zM1250 485h2v1h-2zM1252 486h2v1h-2zM1254 487h2v1h-2z"/>
<path fill="#ff0000" d="M27 337h1v2h-1zM28 335h1v2h-1zM29 333h1v2h-1zM30 331h1v2h-1zM31 329h1v2h-1zM32 327h1v2h-1zM33 325h1v2h-1zM34 323h1v2h-1zM35 321h1v2h-1zM36 319h1v2h-1zM37 317h1v2h-1zM38 315h1v2h-1zM39 313h1v2h-1zM40 311h1v2h-1zM41 308h1v3h-1zM42 306h1v2h-1zM43 304h1v2h-1zM44 301h1v3h-1zM45 299h1v2h-1zM46 296h1v3h-1zM47 294h1v2h-1zM48 291h1v3h-1zM49 289h1v2h-1zM50 286h1v3h-1zM51 284h1v2h-1zM52 280h1v4h-1zM53 276h1v4h-1zM54 272h1v4h-1zM55 268h1v4h-1zM56 264h1v4h-1zM57 259h1v5h-1zM58 255h1v4h-1zM59 250h1v5h-1zM60 245h1v5h-1zM61 241h1v4h-1zM62 236h1v5h-1zM63 232h1v4h-1zM64 228h1v4h-1zM65 223h1v5h-1zM66 219h1v4h-1zM67 215h1v4h-1zM68 211h1v4h-1zM69 206h1v5h-1zM70 201h1v5h-1zM71 197h1v4h-1zM72 192h1v5h-1zM73 187h1v5h-1zM74 183h1v4h-1zM75 179h1v4h-1zM76 175h1v4h-1zM77 172h1v3h-1zM78 168h1v4h-1zM79 165h1v3h-1zM80 161h1v4h-1zM81 159h1v2h-1zM82 157h1v2h-1zM83 155h1v2h-1zM84 153h1v2h-1zM85 151h1v2h-1zM110 135h1v2h-1zM111 137h1v2h-1zM114 141h1v2h-1zM123 151h1v2h-1zM124 153h1v2h-1zM125 155h1v2h-1zM126 157h1v2h-1zM127 159h1v2h-1zM128 161h1v2h-1zM129 163h1v2h-1zM130 165h1v2h-1zM131 167h1v2h-1zM132 169h1v2h-1zM133 171h1v2h-1zM134 173h1v2h-1zM135 175h1v2h-1zM304 207h1v2h-1zM310 214h1v2h-1zM311 216h1v2h-1zM312 218h1v2h-1zM313 220h1v2h-1zM314 222h1v2h-1zM315 224h1v2h-1zM316 226h1v2h-1zM317 228h1v2h-1zM318 230h1v2h-1zM319 232h1v2h-1zM320 234h1v2h-1zM321 236h1v2h-1zM323 239h1v2h-1zM326 243h1v2h-1zM327 245h1v2h-1zM328 247h1v3h-1zM329 250h1v2h-1zM330 252h1v2h-1zM331 254h1v2h-1zM332 256h1v2h-1zM334 259h1v2h-1zM335 261h1v2h-1zM336 263h1v2h-1zM337 265h1v3h-1zM338 268h1v2h-1zM339 270h1v3h-1zM340 273h1v3h-1zM341 276h1v2h-1zM342 278h1v2h-1zM343 280h1v2h-1zM344 282h1v2h-1zM345 284h1v2h-1zM346 286h1v2h-1zM347 288h1v2h-1zM348 290h1v2h-1zM398 292h1v2h-1zM538 331h1v2h-1zM772 358h1v2h-1zM954 418h1v2h-1zM960 425h1v2h-1zM968 434h1v2h-1zM976 443h1v2h-1zM997 463h1v2h-1zM109 134h1v1h-1zM107 135h2v1h-2zM105 136h2v1h-2zM104 137h1v1h-1zM102 138h2v1h-2zM101 139h1v1h-1zM112 139h1v1h-1zM100 140h1v1h-1zM113 140h1v1h-1zM98 141h2v1h-2zM97 142h1v1h-1zM95 143h2v1h-2zM115 143h1v1h-1zM93 144h2v1h-2zM116 144h1v1h-1zM92 145h1v1h-1zM117 145h1v1h-1zM91 146h1v1h-1zM118 146h1v1h-1zM90 147h1v1h-1zM119 147h1v1h-1zM88 148h2v1h-2zM120 148h1v1h-1zM87 149h1v1h-1zM121 149h1v1h-1zM86 150h1v1h-1zM122 150h1v1h-1zM136 177h2v1h-2zM138 178h1v1h-1zM139 179h2v1h-2zM141 180h1v1h-1zM142 181h2v1h-2zM144 182h1v1h-1zM145 183h2v1h-2zM147 184h11v1h-11zM197 184h21v1h-21zM158 185h2v1h-2zM194 185h3v1h-3zM218 185h7v1h-7zM160 186h3v1h-3zM191 186h3v1h-3zM225 186h5v1h-5zM163 187h2v1h-2zM189 187h2v1h-2zM230 187h2v1h-2zM165 188h3v1h-3zM186 188h3v1h-3zM232 188h2v1h-2zM263 188h2v1h-2zM168 189h3v1h-3zM184 189h2v1h-2zM234 189h2v1h-2zM261 189h2v1h-2zM265 189h2v1h-2zM171 190h13v1h-13zM236 190h2v1h-2zM258 190h3v1h-3zM267 190h1v1h-1zM238 191h2v1h-2zM255 191h3v1h-3zM268 191h1v1h-1zM240 192h3v1h-3zM253 192h2v1h-2zM269 192h2v1h-2zM243 193h4v1h-4zM250 193h3v1h-3zM271 193h1v1h-1zM247 194h3v1h-3zM272 194h2v1h-2zM274 195h4v1h-4zM278 196h8v1h-8zM286 197h7v1h-7zM293 198h2v1h-2zM295 199h1v1h-1zM296 200h1v1h-1zM297 201h2v1h-2zM299 202h1v1h-1zM300 203h1v1h-1zM301 204h1v1h-1zM302 205h1v1h-1zM303 206h1v1h-1zM305 209h1v1h-1zM306 210h1v1h-1zM307 211h1v1h-1zM308 212h1v1h-1zM309 213h1v1h-1zM322 238h1v1h-1zM324 241h1v1h-1zM325 242h1v1h-1zM333 258h1v1h-1zM408 284h23v1h-23zM406 285h2v1h-2zM431 285h4v1h-4zM448 285h5v1h-5zM405 286h1v1h-1zM435 286h13v1h-13zM453 286h2v1h-2zM403 287h2v1h-2zM455 287h2v1h-2zM402 288h1v1h-1zM457 288h7v1h-7zM401 289h1v1h-1zM464 289h6v1h-6zM400 290h1v1h-1zM470 290h2v1h-2zM399 291h1v1h-1zM472 291h2v1h-2zM349 292h1v1h-1zM474 292h2v1h-2zM350 293h1v1h-1zM476 293h3v1h-3zM351 294h1v1h-1zM397 294h1v1h-1zM479 294h5v1h-5zM352 295h2v1h-2zM396 295h1v1h-1zM484 295h3v1h-3zM354 296h1v1h-1zM395 296h1v1h-1zM487 296h2v1h-2zM355 297h1v1h-1zM393 297h2v1h-2zM489 297h1v1h-1zM356 298h1v1h-1zM391 298h2v1h-2zM490 298h2v1h-2zM357 299h1v1h-1zM389 299h2v1h-2zM492 299h1v1h-1zM358 300h2v1h-2zM387 300h2v1h-2zM493 300h1v1h-1zM360 301h1v1h-1zM385 301h2v1h-2zM494 301h2v1h-2zM361 302h1v1h-1zM382 302h3v1h-3zM496 302h2v1h-2zM362 303h2v1h-2zM380 303h2v1h-2zM498 303h3v1h-3zM364 304h1v1h-1zM377 304h3v1h-3zM501 304h2v1h-2zM365 305h2v1h-2zM375 305h2v1h-2zM503 305h1v1h-1zM367 306h3v1h-3zM373 306h2v1h-2zM504 306h1v1h-1zM370 307h3v1h-3zM505 307h1v1h-1zM506 308h1v1h-1zM507 309h1v1h-1zM508 310h1v1h-1zM509 311h1v1h-1zM510 312h1v1h-1zM511 313h2v1h-2zM513 314h2v1h-2zM515 315h2v1h-2zM517 316h2v1h-2zM519 317h1v1h-1zM520 318h2v1h-2zM522 319h1v1h-1zM523 320h2v1h-2zM525 321h1v1h-1zM526 322h2v1h-2zM528 323h1v1h-1zM529 324h2v1h-2zM531 325h1v1h-1zM532 326h1v1h-1zM533 327h2v1h-2zM535 328h1v1h-1zM536 329h1v1h-1zM537 330h1v1h-1zM539 333h1v1h-1zM540 334h1v1h-1zM541 335h1v1h-1zM542 336h13v1h-13zM555 337h2v1h-2zM557 338h2v1h-2zM25 339h2v1h-2zM559 339h2v1h-2zM24 340h1v1h-1zM561 340h3v1h-3zM23 341h1v1h-1zM564 341h2v1h-2zM21 342h2v1h-2zM566 342h3v1h-3zM20 343h1v1h-1zM569 343h2v1h-2zM19 344h1v1h-1zM571 344h2v1h-2zM748 344h9v1h-9zM17 345h2v1h-2zM573 345h1v1h-1zM744 345h4v1h-4zM757 345h2v1h-2zM16 346h1v1h-1zM574 346h1v1h-1zM741 346h3v1h-3zM759 346h1v1h-1zM14 347h2v1h-2zM575 347h1v1h-1zM739 347h2v1h-2zM760 347h1v1h-1zM13 348h1v1h-1zM576 348h2v1h-2zM738 348h1v1h-1zM761 348h1v1h-1zM11 349h2v1h-2zM578 349h1v1h-1zM736 349h2v1h-2zM762 349h1v1h-1zM10 350h1v1h-1zM579 350h1v1h-1zM734 350h2v1h-2zM763 350h2v1h-2zM8 351h2v1h-2zM580 351h1v1h-1zM732 351h2v1h-2zM765 351h1v1h-1zM6 352h2v1h-2zM581 352h1v1h-1zM730 352h2v1h-2zM766 352h1v1h-1zM5 353h1v1h-1zM582 353h1v1h-1zM728 353h2v1h-2zM767 353h1v1h-1zM3 354h2v1h-2zM583 354h2v1h-2zM726 354h2v1h-2zM768 354h1v1h-1zM2 355h1v1h-1zM585 355h1v1h-1zM725 355h1v1h-1zM769 355h1v1h-1zM586 356h1v1h-1zM724 356h1v1h-1zM770 356h1v1h-1zM587 357h2v1h-2zM723 357h1v1h-1zM771 357h1v1h-1zM589 358h1v1h-1zM722 358h1v1h-1zM590 359h2v1h-2zM721 359h1v1h-1zM592 360h3v1h-3zM720 360h1v1h-1zM773 360h1v1h-1zM595 361h2v1h-2zM719 361h1v1h-1zM774 361h1v1h-1zM597 362h3v1h-3zM718 362h1v1h-1zM775 362h1v1h-1zM600 363h2v1h-2zM717 363h1v1h-1zM776 363h1v1h-1zM602 364h2v1h-2zM716 364h1v1h-1zM777 364h1v1h-1zM604 365h1v1h-1zM715 365h1v1h-1zM778 365h2v1h-2zM605 366h1v1h-1zM714 366h1v1h-1zM780 366h1v1h-1zM606 367h1v1h-1zM713 367h1v1h-1zM781 367h1v1h-1zM607 368h1v1h-1zM711 368h2v1h-2zM782 368h1v1h-1zM608 369h1v1h-1zM710 369h1v1h-1zM783 369h2v1h-2zM609 370h1v1h-1zM709 370h1v1h-1zM785 370h2v1h-2zM610 371h1v1h-1zM707 371h2v1h-2zM787 371h1v1h-1zM611 372h1v1h-1zM706 372h1v1h-1zM788 372h2v1h-2zM839 372h11v1h-11zM612 373h2v1h-2zM705 373h1v1h-1zM790 373h2v1h-2zM835 373h4v1h-4zM850 373h2v1h-2zM614 374h2v1h-2zM704 374h1v1h-1zM792 374h2v1h-2zM833 374h2v1h-2zM852 374h2v1h-2zM616 375h1v1h-1zM703 375h1v1h-1zM794 375h2v1h-2zM832 375h1v1h-1zM854 375h3v1h-3zM617 376h2v1h-2zM702 376h1v1h-1zM796 376h2v1h-2zM830 376h2v1h-2zM857 376h2v1h-2zM619 377h2v1h-2zM701 377h1v1h-1zM798 377h2v1h-2zM829 377h1v1h-1zM859 377h2v1h-2zM621 378h1v1h-1zM700 378h1v1h-1zM800 378h2v1h-2zM827 378h2v1h-2zM861 378h3v1h-3zM622 379h1v1h-1zM699 379h1v1h-1zM802 379h1v1h-1zM826 379h1v1h-1zM864 379h2v1h-2zM623 380h1v1h-1zM698 380h1v1h-1zM803 380h2v1h-2zM825 380h1v1h-1zM866 380h2v1h-2zM624 381h2v1h-2zM697 381h1v1h-1zM805 381h2v1h-2zM823 381h2v1h-2zM868 381h2v1h-2zM626 382h1v1h-1zM696 382h1v1h-1zM807 382h1v1h-1zM822 382h1v1h-1zM870 382h2v1h-2zM627 383h1v1h-1zM695 383h1v1h-1zM808 383h2v1h-2zM820 383h2v1h-2zM872 383h2v1h-2zM628 384h1v1h-1zM693 384h2v1h-2zM810 384h4v1h-4zM818 384h2v1h-2zM874 384h2v1h-2zM629 385h2v1h-2zM689 385h4v1h-4zM814 385h4v1h-4zM876 385h2v1h-2zM631 386h1v1h-1zM687 386h2v1h-2zM878 386h1v1h-1zM632 387h1v1h-1zM685 387h2v1h-2zM879 387h2v1h-2zM633 388h2v1h-2zM683 388h2v1h-2zM881 388h2v1h-2zM635 389h1v1h-1zM681 389h2v1h-2zM883 389h2v1h-2zM636 390h7v1h-7zM679 390h2v1h-2zM885 390h1v1h-1zM643 391h2v1h-2zM677 391h2v1h-2zM886 391h1v1h-1zM645 392h2v1h-2zM675 392h2v1h-2zM887 392h1v1h-1zM647 393h2v1h-2zM672 393h3v1h-3zM888 393h1v1h-1zM649 394h9v1h-9zM669 394h3v1h-3zM889 394h1v1h-1zM658 395h3v1h-3zM665 395h4v1h-4zM890 395h1v1h-1zM661 396h4v1h-4zM891 396h1v1h-1zM892 397h2v1h-2zM894 398h1v1h-1zM895 399h1v1h-1zM896 400h2v1h-2zM918 400h7v1h-7zM898 401h2v1h-2zM913 401h5v1h-5zM925 401h5v1h-5zM900 402h2v1h-2zM910 402h3v1h-3zM930 402h3v1h-3zM902 403h2v1h-2zM906 403h4v1h-4zM933 403h2v1h-2zM904 404h2v1h-2zM935 404h2v1h-2zM937 405h2v1h-2zM939 406h1v1h-1zM940 407h1v1h-1zM941 408h2v1h-2zM943 409h1v1h-1zM944 410h1v1h-1zM945 411h2v1h-2zM947 412h1v1h-1zM948 413h1v1h-1zM949 414h2v1h-2zM951 415h1v1h-1zM952 416h1v1h-1zM953 417h1v1h-1zM955 420h1v1h-1zM956 421h1v1h-1zM957 422h1v1h-1zM958 423h1v1h-1zM959 424h1v1h-1zM961 427h1v1h-1zM962 428h1v1h-1zM963 429h1v1h-1zM964 430h1v1h-1zM965 431h1v1h-1zM966 432h1v1h-1zM967 433h1v1h-1zM969 436h1v1h-1zM970 437h1v1h-1zM971 438h1v1h-1zM972 439h1v1h-1zM973 440h1v1h-1zM974 441h1v1h-1zM975 442h1v1h-1zM977 445h1v1h-1zM978 446h1v1h-1zM979 447h1v1h-1zM980 448h1v1h-1zM981 449h2v1h-2zM983 450h1v1h-1zM984 451h1v1h-1zM985 452h2v1h-2zM987 453h1v1h-1zM988 454h1v1h-1zM989 455h1v1h-1zM990 456h1v1h-1zM991 457h1v1h-1zM992 458h1v1h-1zM993 459h1v1h-1zM994 460h1v1h-1zM995 461h1v1h-1zM1033 461h7v1h-7zM996 462h1v1h-1zM1029 462h4v1h-4zM1040 462h10v1h-10zM1027 463h2v1h-2zM1050 463h7v1h-7zM1024 464h3v1h-3zM1057 464h3v1h-3zM998 465h1v1h-1zM1018 465h6v1h-6zM1060 465h2v1h-2zM999 466h1v1h-1zM1013 466h5v1h-5zM1062 466h2v1h-2zM1000 467h2v1h-2zM1011 467h2v1h-2zM1064 467h2v1h-2zM1002 468h4v1h-4zM1009 468h2v1h-2zM1066 468h2v1h-2zM1171 468h11v1h-11zM1006 469h3v1h-3zM1068 469h2v1h-2zM1167 469h4v1h-4zM1182 469h5v1h-5zM1070 470h4v1h-4zM1164 470h3v1h-3zM1187 470h2v1h-2zM1074 471h3v1h-3zM1160 471h4v1h-4zM1189 471h2v1h-2zM1077 472h2v1h-2zM1158 472h2v1h-2zM1191 472h2v1h-2zM1079 473h2v1h-2zM1156 473h2v1h-2zM1193 473h3v1h-3zM1081 474h2v1h-2zM1155 474h1v1h-1zM1196 474h3v1h-3zM1083 475h2v1h-2zM1153 475h2v1h-2zM1199 475h2v1h-2zM1085 476h2v1h-2zM1151 476h2v1h-2zM1201 476h2v1h-2zM1087 477h2v1h-2zM1147 477h4v1h-4zM1203 477h2v1h-2zM1089 478h2v1h-2zM1145 478h2v1h-2zM1205 478h2v1h-2zM1091 479h4v1h-4zM1100 479h4v1h-4zM1143 479h2v1h-2zM1207 479h1v1h-1zM1095 480h5v1h-5zM1104 480h3v1h-3zM1141 480h2v1h-2zM1208 480h2v1h-2zM1107 481h3v1h-3zM1116 481h25v1h-25zM1210 481h1v1h-1zM1110 482h6v1h-6zM1211 482h1v1h-1zM1212 483h2v1h-2zM1214 484h1v1h-1zM1215 485h1v1h-1zM1216 486h1v1h-1zM1217 487h2v1h-2zM1219 488h2v1h-2zM1221 489h1v1h-1zM1222 490h1v1h-1zM1223 491h1v1h-1zM1224 492h2v1h-2zM1226 493h1v1h-1zM1227 494h1v1h-1zM1228 495h5v1h-5zM1233 496h6v1h-6zM1252 496h3v1h-3zM1239 497h4v1h-4zM1247 497h5v1h-5zM1243 498h4v1h-4z"/>
<path fill="#ffa500" d="M23 329h1v2h-1zM26 325h1v2h-1zM27 322h1v3h-1zM28 318h1v4h-1zM29 314h1v4h-1zM30 310h1v4h-1zM31 305h1v5h-1zM32 301h1v4h-1zM33 296h1v5h-1zM34 292h1v4h-1zM35 287h1v5h-1zM36 281h1v6h-1zM37 275h1v6h-1zM38 269h1v6h-1zM39 264h1v5h-1zM40 259h1v5h-1zM41 254h1v5h-1zM42 249h1v5h-1zM43 244h1v5h-1zM44 240h1v4h-1zM45 235h1v5h-1zM46 231h1v4h-1zM47 227h1v4h-1zM48 224h1v3h-1zM49 220h1v4h-1zM50 217h1v3h-1zM51 214h1v3h-1zM52 209h1v5h-1zM53 203h1v6h-1zM54 197h1v6h-1zM55 191h1v6h-1zM56 184h1v7h-1zM57 177h1v7h-1zM58 170h1v7h-1zM59 163h1v7h-1zM60 157h1v6h-1zM61 153h1v4h-1zM62 148h1v5h-1zM63 144h1v4h-1zM64 140h1v4h-1zM65 135h1v5h-1zM66 131h1v4h-1zM67 126h1v5h-1zM68 120h1v6h-1zM69 115h1v5h-1zM70 109h1v6h-1zM71 105h1v4h-1zM72 102h1v3h-1zM73 99h1v3h-1zM74 96h1v3h-1zM75 94h1v2h-1zM80 98h1v2h-1zM81 100h1v2h-1zM82 102h1v2h-1zM83 104h1v2h-1zM84 106h1v4h-1zM85 110h1v3h-1zM86 113h1v3h-1zM87 116h1v4h-1zM88 120h1v3h-1zM89 123h1v3h-1zM90 126h1v3h-1zM91 129h1v5h-1zM92 134h1v6h-1zM93 140h1v6h-1zM94 146h1v5h-1zM95 151h1v5h-1zM96 156h1v6h-1zM97 162h1v5h-1zM98 167h1v4h-1zM99 171h1v2h-1zM100 173h1v3h-1zM101 176h1v2h-1zM102 178h1v2h-1zM103 180h1v2h-1zM104 178h1v2h-1zM105 176h1v2h-1zM106 174h1v2h-1zM112 168h1v2h-1zM113 166h1v2h-1zM114 164h1v2h-1zM122 164h1v2h-1zM123 166h1v2h-1zM124 168h1v3h-1zM125 171h1v2h-1zM126 173h1v2h-1zM130 178h1v2h-1zM135 184h1v2h-1zM136 186h1v2h-1zM137 188h1v3h-1zM138 191h1v2h-1zM139 193h1v2h-1zM140 195h1v3h-1zM141 198h1v2h-1zM142 200h1v2h-1zM152 205h1v2h-1zM155 201h1v2h-1zM157 198h1v2h-1zM159 195h1v2h-1zM162 191h1v2h-1zM169 184h1v2h-1zM172 180h1v2h-1zM198 183h1v2h-1zM203 189h1v2h-1zM204 191h1v2h-1zM206 194h1v2h-1zM207 196h1v2h-1zM223 187h1v2h-1zM224 185h1v2h-1zM225 183h1v2h-1zM226 181h1v2h-1zM227 179h1v2h-1zM229 179h1v2h-1zM230 181h1v2h-1zM232 184h1v2h-1zM233 186h1v2h-1zM235 189h1v2h-1zM236 191h1v2h-1zM237 193h1v2h-1zM238 195h1v2h-1zM244 199h1v2h-1zM246 202h1v2h-1zM248 202h1v2h-1zM250 199h1v2h-1zM251 197h1v2h-1zM252 195h1v2h-1zM253 193h1v2h-1zM254 191h1v2h-1zM255 189h1v2h-1zM256 187h1v2h-1zM268 184h1v2h-1zM269 186h1v2h-1zM270 188h1v2h-1zM271 190h1v2h-1zM272 192h1v2h-1zM273 194h1v2h-1zM275 197h1v2h-1zM277 200h1v2h-1zM279 203h1v2h-1zM281 206h1v2h-1zM293 204h1v2h-1zM296 208h1v2h-1zM297 210h1v2h-1zM298 212h1v2h-1zM299 214h1v3h-1zM300 217h1v3h-1zM301 220h1v2h-1zM302 222h1v3h-1zM303 225h1v2h-1zM304 227h1v3h-1zM305 230h1v3h-1zM306 233h1v2h-1zM307 235h1v3h-1zM308 238h1v2h-1zM310 241h1v2h-1zM311 243h1v2h-1zM312 245h1v2h-1zM313 247h1v2h-1zM314 249h1v2h-1zM315 251h1v2h-1zM316 253h1v2h-1zM317 255h1v3h-1zM318 258h1v3h-1zM319 261h1v3h-1zM320 264h1v3h-1zM321 267h1v3h-1zM322 270h1v3h-1zM323 273h1v3h-1zM324 276h1v3h-1zM325 279h1v3h-1zM326 282h1v3h-1zM327 285h1v4h-1zM328 289h1v4h-1zM329 293h1v5h-1zM330 298h1v5h-1zM331 303h1v4h-1zM332 307h1v3h-1zM333 310h1v2h-1zM335 313h1v2h-1zM338 317h1v2h-1zM348 325h1v2h-1zM351 321h1v2h-1zM352 319h1v2h-1zM353 317h1v2h-1zM354 315h1v2h-1zM355 312h1v3h-1zM356 310h1v2h-1zM357 308h1v2h-1zM358 306h1v2h-1zM359 303h1v3h-1zM360 301h1v2h-1zM361 299h1v2h-1zM362 296h1v3h-1zM363 294h1v2h-1zM364 292h1v2h-1zM365 290h1v2h-1zM403 284h1v2h-1zM404 282h1v2h-1zM405 280h1v2h-1zM406 278h1v2h-1zM407 276h1v2h-1zM487 301h1v2h-1zM490 305h1v2h-1zM491 307h1v2h-1zM492 309h1v2h-1zM493 311h1v2h-1zM494 313h1v2h-1zM495 315h1v2h-1zM497 318h1v2h-1zM499 321h1v2h-1zM501 324h1v2h-1zM535 331h1v2h-1zM536 333h1v2h-1zM537 335h1v2h-1zM539 338h1v2h-1zM542 342h1v2h-1zM562 344h1v2h-1zM563 346h1v2h-1zM564 348h1v2h-1zM565 350h1v2h-1zM568 354h1v2h-1zM573 360h1v2h-1zM592 375h1v2h-1zM619 385h1v2h-1zM621 388h1v2h-1zM623 391h1v2h-1zM625 394h1v2h-1zM628 398h1v2h-1zM664 387h1v2h-1zM668 382h1v2h-1zM699 372h1v2h-1zM700 370h1v2h-1zM701 367h1v3h-1zM702 365h1v2h-1zM703 363h1v2h-1zM704 361h1v2h-1zM705 359h1v2h-1zM706 357h1v2h-1zM708 354h1v2h-1zM709 352h1v2h-1zM710 350h1v2h-1zM711 348h1v2h-1zM712 346h1v2h-1zM713 344h1v2h-1zM714 342h1v2h-1zM715 340h1v2h-1zM716 338h1v2h-1zM736 339h1v2h-1zM758 356h1v2h-1zM759 358h1v3h-1zM760 361h1v2h-1zM761 363h1v2h-1zM762 365h1v2h-1zM763 367h1v2h-1zM764 369h1v2h-1zM765 371h1v2h-1zM766 373h1v2h-1zM767 375h1v2h-1zM768 377h1v2h-1zM770 380h1v2h-1zM773 384h1v2h-1zM781 387h1v2h-1zM822 383h1v2h-1zM823 381h1v2h-1zM824 379h1v2h-1zM825 377h1v2h-1zM826 375h1v2h-1zM827 372h1v3h-1zM828 370h1v2h-1zM829 368h1v2h-1zM830 366h1v2h-1zM831 364h1v2h-1zM833 361h1v2h-1zM834 359h1v2h-1zM835 357h1v2h-1zM836 355h1v2h-1zM837 353h1v2h-1zM845 351h1v2h-1zM847 354h1v2h-1zM848 356h1v3h-1zM849 359h1v4h-1zM850 363h1v3h-1zM851 366h1v3h-1zM852 369h1v3h-1zM853 372h1v4h-1zM854 376h1v3h-1zM855 379h1v3h-1zM856 382h1v3h-1zM857 385h1v4h-1zM858 389h1v3h-1zM859 392h1v3h-1zM860 395h1v3h-1zM861 398h1v2h-1zM862 400h1v3h-1zM863 403h1v2h-1zM864 405h1v2h-1zM865 407h1v2h-1zM866 409h1v2h-1zM869 413h1v2h-1zM880 407h1v2h-1zM881 405h1v2h-1zM882 403h1v2h-1zM883 401h1v2h-1zM884 399h1v2h-1zM929 410h1v2h-1zM931 413h1v2h-1zM933 416h1v2h-1zM948 428h1v2h-1zM949 430h1v2h-1zM950 432h1v2h-1zM951 434h1v2h-1zM953 437h1v2h-1zM954 439h1v2h-1zM956 442h1v2h-1zM957 444h1v2h-1zM958 446h1v2h-1zM959 448h1v2h-1zM960 450h1v2h-1zM961 452h1v2h-1zM963 455h1v2h-1zM966 459h1v2h-1zM1009 469h1v2h-1zM1012 465h1v2h-1zM1013 463h1v2h-1zM1014 461h1v2h-1zM1015 459h1v2h-1zM1019 454h1v2h-1zM1034 452h1v2h-1zM1037 456h1v2h-1zM1040 460h1v2h-1zM1042 463h1v2h-1zM1045 467h1v2h-1zM1047 470h1v2h-1zM1050 474h1v2h-1zM1110 484h1v2h-1zM1127 483h1v2h-1zM1128 481h1v2h-1zM1129 479h1v2h-1zM1174 470h1v2h-1zM1220 496h1v2h-1zM1223 500h1v2h-1zM1224 502h1v2h-1zM1225 504h1v2h-1zM1226 506h1v2h-1zM76 95h2v1h-2zM78 96h1v1h-1zM79 97h1v1h-1zM115 163h4v1h-4zM119 164h3v1h-3zM111 170h1v1h-1zM110 171h1v1h-1zM108 172h2v1h-2zM107 173h1v1h-1zM187 173h1v1h-1zM185 174h2v1h-2zM188 174h1v1h-1zM127 175h1v1h-1zM183 175h2v1h-2zM189 175h1v1h-1zM128 176h1v1h-1zM181 176h2v1h-2zM190 176h2v1h-2zM129 177h1v1h-1zM177 177h4v1h-4zM192 177h1v1h-1zM174 178h3v1h-3zM193 178h1v1h-1zM228 178h1v1h-1zM173 179h1v1h-1zM194 179h1v1h-1zM131 180h1v1h-1zM195 180h1v1h-1zM264 180h1v1h-1zM132 181h1v1h-1zM196 181h1v1h-1zM263 181h1v1h-1zM265 181h1v1h-1zM133 182h1v1h-1zM171 182h1v1h-1zM197 182h1v1h-1zM262 182h1v1h-1zM266 182h1v1h-1zM134 183h1v1h-1zM170 183h1v1h-1zM231 183h1v1h-1zM261 183h1v1h-1zM267 183h1v1h-1zM259 184h2v1h-2zM199 185h1v1h-1zM258 185h1v1h-1zM168 186h1v1h-1zM200 186h1v1h-1zM257 186h1v1h-1zM167 187h1v1h-1zM201 187h1v1h-1zM165 188h2v1h-2zM202 188h1v1h-1zM234 188h1v1h-1zM164 189h1v1h-1zM222 189h1v1h-1zM163 190h1v1h-1zM220 190h2v1h-2zM219 191h1v1h-1zM218 192h1v1h-1zM161 193h1v1h-1zM205 193h1v1h-1zM216 193h2v1h-2zM160 194h1v1h-1zM215 194h1v1h-1zM214 195h1v1h-1zM212 196h2v1h-2zM274 196h1v1h-1zM158 197h1v1h-1zM210 197h2v1h-2zM239 197h3v1h-3zM208 198h2v1h-2zM242 198h2v1h-2zM276 199h1v1h-1zM156 200h1v1h-1zM245 201h1v1h-1zM249 201h1v1h-1zM143 202h2v1h-2zM278 202h1v1h-1zM145 203h1v1h-1zM154 203h1v1h-1zM292 203h1v1h-1zM146 204h2v1h-2zM153 204h1v1h-1zM247 204h1v1h-1zM291 204h1v1h-1zM148 205h1v1h-1zM280 205h1v1h-1zM289 205h2v1h-2zM149 206h2v1h-2zM288 206h1v1h-1zM294 206h1v1h-1zM151 207h1v1h-1zM285 207h3v1h-3zM295 207h1v1h-1zM282 208h3v1h-3zM309 240h1v1h-1zM413 272h1v1h-1zM411 273h2v1h-2zM414 273h2v1h-2zM409 274h2v1h-2zM416 274h2v1h-2zM408 275h1v1h-1zM418 275h1v1h-1zM419 276h1v1h-1zM420 277h1v1h-1zM421 278h1v1h-1zM422 279h1v1h-1zM423 280h1v1h-1zM424 281h1v1h-1zM425 282h1v1h-1zM426 283h1v1h-1zM427 284h1v1h-1zM428 285h1v1h-1zM402 286h1v1h-1zM429 286h1v1h-1zM401 287h1v1h-1zM430 287h1v1h-1zM371 288h13v1h-13zM400 288h1v1h-1zM431 288h1v1h-1zM367 289h4v1h-4zM384 289h3v1h-3zM398 289h2v1h-2zM432 289h1v1h-1zM366 290h1v1h-1zM387 290h3v1h-3zM397 290h1v1h-1zM433 290h1v1h-1zM455 290h12v1h-12zM390 291h4v1h-4zM396 291h1v1h-1zM434 291h1v1h-1zM450 291h5v1h-5zM467 291h1v1h-1zM394 292h2v1h-2zM435 292h1v1h-1zM448 292h2v1h-2zM468 292h2v1h-2zM436 293h5v1h-5zM446 293h2v1h-2zM470 293h1v1h-1zM441 294h5v1h-5zM471 294h10v1h-10zM481 295h1v1h-1zM482 296h1v1h-1zM483 297h1v1h-1zM484 298h1v1h-1zM485 299h1v1h-1zM486 300h1v1h-1zM488 303h1v1h-1zM489 304h1v1h-1zM334 312h1v1h-1zM336 315h1v1h-1zM337 316h1v1h-1zM496 317h1v1h-1zM339 319h1v1h-1zM340 320h1v1h-1zM498 320h1v1h-1zM341 321h1v1h-1zM342 322h1v1h-1zM343 323h1v1h-1zM350 323h1v1h-1zM500 323h1v1h-1zM344 324h1v1h-1zM349 324h1v1h-1zM345 325h1v1h-1zM346 326h1v1h-1zM502 326h1v1h-1zM25 327h1v1h-1zM347 327h1v1h-1zM503 327h2v1h-2zM24 328h1v1h-1zM505 328h2v1h-2zM507 329h1v1h-1zM508 330h2v1h-2zM533 330h2v1h-2zM22 331h1v1h-1zM510 331h3v1h-3zM519 331h6v1h-6zM529 331h4v1h-4zM20 332h2v1h-2zM513 332h6v1h-6zM525 332h4v1h-4zM726 332h2v1h-2zM8 333h5v1h-5zM18 333h2v1h-2zM724 333h2v1h-2zM728 333h2v1h-2zM6 334h2v1h-2zM13 334h5v1h-5zM722 334h2v1h-2zM730 334h1v1h-1zM4 335h2v1h-2zM720 335h2v1h-2zM731 335h2v1h-2zM2 336h2v1h-2zM719 336h1v1h-1zM733 336h1v1h-1zM538 337h1v1h-1zM717 337h2v1h-2zM734 337h1v1h-1zM735 338h1v1h-1zM540 340h1v1h-1zM541 341h1v1h-1zM737 341h1v1h-1zM738 342h1v1h-1zM547 343h6v1h-6zM739 343h1v1h-1zM543 344h4v1h-4zM553 344h9v1h-9zM740 344h1v1h-1zM741 345h1v1h-1zM742 346h1v1h-1zM743 347h1v1h-1zM744 348h1v1h-1zM745 349h1v1h-1zM843 349h1v1h-1zM746 350h1v1h-1zM841 350h2v1h-2zM844 350h1v1h-1zM747 351h2v1h-2zM839 351h2v1h-2zM566 352h1v1h-1zM749 352h2v1h-2zM838 352h1v1h-1zM567 353h1v1h-1zM751 353h2v1h-2zM846 353h1v1h-1zM753 354h2v1h-2zM755 355h2v1h-2zM569 356h1v1h-1zM707 356h1v1h-1zM757 356h1v1h-1zM570 357h1v1h-1zM571 358h1v1h-1zM572 359h1v1h-1zM574 362h1v1h-1zM575 363h1v1h-1zM832 363h1v1h-1zM576 364h1v1h-1zM577 365h2v1h-2zM579 366h1v1h-1zM580 367h1v1h-1zM581 368h1v1h-1zM582 369h2v1h-2zM584 370h2v1h-2zM586 371h2v1h-2zM588 372h2v1h-2zM590 373h1v1h-1zM591 374h1v1h-1zM698 374h1v1h-1zM696 375h2v1h-2zM600 376h8v1h-8zM695 376h1v1h-1zM593 377h1v1h-1zM596 377h4v1h-4zM608 377h4v1h-4zM691 377h4v1h-4zM594 378h2v1h-2zM612 378h1v1h-1zM683 378h8v1h-8zM793 378h3v1h-3zM613 379h1v1h-1zM675 379h8v1h-8zM769 379h1v1h-1zM791 379h2v1h-2zM796 379h2v1h-2zM614 380h1v1h-1zM670 380h5v1h-5zM789 380h2v1h-2zM798 380h2v1h-2zM615 381h1v1h-1zM669 381h1v1h-1zM788 381h1v1h-1zM800 381h1v1h-1zM616 382h1v1h-1zM771 382h1v1h-1zM786 382h2v1h-2zM801 382h2v1h-2zM617 383h1v1h-1zM772 383h1v1h-1zM785 383h1v1h-1zM803 383h1v1h-1zM618 384h1v1h-1zM667 384h1v1h-1zM784 384h1v1h-1zM804 384h1v1h-1zM666 385h1v1h-1zM783 385h1v1h-1zM805 385h1v1h-1zM820 385h2v1h-2zM665 386h1v1h-1zM774 386h1v1h-1zM782 386h1v1h-1zM806 386h2v1h-2zM819 386h1v1h-1zM620 387h1v1h-1zM775 387h1v1h-1zM808 387h1v1h-1zM817 387h2v1h-2zM776 388h2v1h-2zM809 388h1v1h-1zM814 388h3v1h-3zM663 389h1v1h-1zM778 389h1v1h-1zM780 389h1v1h-1zM810 389h4v1h-4zM622 390h1v1h-1zM662 390h1v1h-1zM779 390h1v1h-1zM660 391h2v1h-2zM659 392h1v1h-1zM624 393h1v1h-1zM657 393h2v1h-2zM893 393h3v1h-3zM656 394h1v1h-1zM890 394h3v1h-3zM896 394h2v1h-2zM655 395h1v1h-1zM889 395h1v1h-1zM898 395h2v1h-2zM626 396h1v1h-1zM654 396h1v1h-1zM887 396h2v1h-2zM900 396h1v1h-1zM627 397h1v1h-1zM652 397h2v1h-2zM886 397h1v1h-1zM901 397h1v1h-1zM651 398h1v1h-1zM885 398h1v1h-1zM902 398h1v1h-1zM650 399h1v1h-1zM903 399h1v1h-1zM629 400h2v1h-2zM648 400h2v1h-2zM904 400h4v1h-4zM631 401h2v1h-2zM646 401h2v1h-2zM908 401h8v1h-8zM633 402h2v1h-2zM644 402h2v1h-2zM916 402h4v1h-4zM635 403h9v1h-9zM920 403h2v1h-2zM922 404h1v1h-1zM923 405h1v1h-1zM924 406h2v1h-2zM926 407h1v1h-1zM927 408h1v1h-1zM879 409h1v1h-1zM928 409h1v1h-1zM878 410h1v1h-1zM867 411h1v1h-1zM877 411h1v1h-1zM868 412h1v1h-1zM876 412h1v1h-1zM930 412h1v1h-1zM874 413h2v1h-2zM872 414h2v1h-2zM870 415h2v1h-2zM932 415h1v1h-1zM934 418h1v1h-1zM935 419h2v1h-2zM937 420h2v1h-2zM939 421h2v1h-2zM941 422h1v1h-1zM942 423h1v1h-1zM943 424h1v1h-1zM944 425h2v1h-2zM946 426h1v1h-1zM947 427h1v1h-1zM952 436h1v1h-1zM955 441h1v1h-1zM1025 450h8v1h-8zM1022 451h3v1h-3zM1033 451h1v1h-1zM1021 452h1v1h-1zM1020 453h1v1h-1zM962 454h1v1h-1zM1035 454h1v1h-1zM1036 455h1v1h-1zM1018 456h1v1h-1zM964 457h1v1h-1zM1017 457h1v1h-1zM965 458h1v1h-1zM1016 458h1v1h-1zM1038 458h1v1h-1zM1039 459h1v1h-1zM1160 459h1v1h-1zM1158 460h2v1h-2zM1161 460h2v1h-2zM967 461h1v1h-1zM1156 461h2v1h-2zM1163 461h2v1h-2zM968 462h1v1h-1zM1041 462h1v1h-1zM1148 462h8v1h-8zM1165 462h1v1h-1zM969 463h1v1h-1zM1147 463h1v1h-1zM1166 463h1v1h-1zM970 464h2v1h-2zM1146 464h1v1h-1zM1167 464h1v1h-1zM972 465h1v1h-1zM1043 465h1v1h-1zM1144 465h2v1h-2zM1168 465h2v1h-2zM973 466h1v1h-1zM1044 466h1v1h-1zM1143 466h1v1h-1zM1170 466h1v1h-1zM974 467h4v1h-4zM1011 467h1v1h-1zM1142 467h1v1h-1zM1171 467h1v1h-1zM978 468h4v1h-4zM1010 468h1v1h-1zM1141 468h1v1h-1zM1172 468h1v1h-1zM982 469h2v1h-2zM1046 469h1v1h-1zM1140 469h1v1h-1zM1173 469h1v1h-1zM984 470h2v1h-2zM1138 470h2v1h-2zM986 471h3v1h-3zM1008 471h1v1h-1zM1137 471h1v1h-1zM989 472h4v1h-4zM1006 472h2v1h-2zM1048 472h1v1h-1zM1136 472h1v1h-1zM1175 472h1v1h-1zM993 473h5v1h-5zM1002 473h4v1h-4zM1049 473h1v1h-1zM1135 473h1v1h-1zM1176 473h1v1h-1zM998 474h4v1h-4zM1134 474h1v1h-1zM1177 474h1v1h-1zM1133 475h1v1h-1zM1178 475h1v1h-1zM1051 476h1v1h-1zM1082 476h3v1h-3zM1132 476h1v1h-1zM1179 476h1v1h-1zM1052 477h2v1h-2zM1078 477h4v1h-4zM1085 477h3v1h-3zM1131 477h1v1h-1zM1180 477h1v1h-1zM1054 478h2v1h-2zM1076 478h2v1h-2zM1088 478h4v1h-4zM1130 478h1v1h-1zM1181 478h1v1h-1zM1056 479h2v1h-2zM1075 479h1v1h-1zM1092 479h4v1h-4zM1182 479h1v1h-1zM1058 480h4v1h-4zM1074 480h1v1h-1zM1096 480h9v1h-9zM1183 480h1v1h-1zM1062 481h5v1h-5zM1072 481h2v1h-2zM1105 481h2v1h-2zM1184 481h2v1h-2zM1067 482h3v1h-3zM1071 482h1v1h-1zM1107 482h2v1h-2zM1186 482h1v1h-1zM1070 483h1v1h-1zM1109 483h1v1h-1zM1187 483h1v1h-1zM1188 484h1v1h-1zM1126 485h1v1h-1zM1189 485h2v1h-2zM1111 486h1v1h-1zM1124 486h2v1h-2zM1191 486h2v1h-2zM1112 487h3v1h-3zM1123 487h1v1h-1zM1193 487h2v1h-2zM1204 487h4v1h-4zM1115 488h4v1h-4zM1121 488h2v1h-2zM1195 488h9v1h-9zM1208 488h2v1h-2zM1119 489h2v1h-2zM1210 489h1v1h-1zM1211 490h2v1h-2zM1213 491h1v1h-1zM1214 492h2v1h-2zM1216 493h2v1h-2zM1218 494h1v1h-1zM1219 495h1v1h-1zM1221 498h1v1h-1zM1222 499h1v1h-1zM1249 499h7v1h-7zM1247 500h2v1h-2zM1245 501h2v1h-2zM1244 502h1v1h-1zM1242 503h2v1h-2zM1241 504h1v1h-1zM1240 505h1v1h-1zM1239 506h1v1h-1zM1238 507h1v1h-1zM1227 508h1v1h-1zM1237 508h1v1h-1zM1228 509h1v1h-1zM1236 509h1v1h-1zM1229 510h1v1h-1zM1235 510h1v1h-1zM1230 511h1v1h-1zM1233 511h2v1h-2zM1231 512h2v1h-2z"/>
<rect x="3" y="368" width="1576" height="2" fill="#ff0000"/>
<rect x="3" y="409" width="1576" height="2" fill="#ff0000"/>
<rect x="3" y="449" width="1576" height="2" fill="#00ff00"/>
<rect x="3" y="496" width="1576" height="2" fill="#0000ff"/>
<rect x="3" y="529" width="1576" height="2" fill="#0000ff"/>
</g>
<rect x="2" y="366" width="6" height="6" fill="#ff0000"/><rect x="4" y="368" width="2" height="2" fill="#fff"/>
<rect x="1573" y="366" width="6" height="6" fill="#ff0000"/><rect x="1575" y="368" width="2" height="2" fill="#fff"/>
<rect x="2" y="407" width="6" height="6" fill="#ff0000"/><rect x="4" y="409" width="2" height="2" fill="#fff"/>
<rect x="1573" y="407" width="6" height="6" fill="#ff0000"/><rect x="1575" y="409" width="2" height="2" fill="#fff"/>
<rect x="2" y="447" width="6" height="6" fill="#00ff00"/><rect x="4" y="449" width="2" height="2" fill="#fff"/>
<rect x="1573" y="447" width="6" height="6" fill="#00ff00"/><rect x="1575" y="449" width="2" height="2" fill="#fff"/>
<rect x="2" y="494" width="6" height="6" fill="#0000ff"/><rect x="4" y="496" width="2" height="2" fill="#fff"/>
<rect x="1573" y="494" width="6" height="6" fill="#0000ff"/><rect x="1575" y="496" width="2" height="2" fill="#fff"/>
<rect x="2" y="527" width="6" height="6" fill="#0000ff"/><rect x="4" y="529" width="2" height="2" fill="#fff"/>
<rect x="1573" y="527" width="6" height="6" fill="#0000ff"/><rect x="1575" y="529" width="2" height="2" fill="#fff"/>
<g clip-path="url(#cr)">
<line shape-rendering="geometricPrecision" x1="3" x2="1579" y1="582.5" y2="582.5" stroke="#c0c0c0" stroke-width="1" stroke-dasharray="3.5,2.5" stroke-dashoffset="5"/>
<line shape-rendering="geometricPrecision" x1="3" x2="1579" y1="619.5" y2="619.5" stroke="#c0c0c0" stroke-width="1" stroke-dasharray="3.5,2.5" stroke-dashoffset="5"/>
<path fill="#1e90ff" d="M2 582h1v2h-1zM3 584h1v2h-1zM4 586h1v2h-1zM5 588h1v2h-1zM6 590h1v2h-1zM8 590h1v2h-1zM10 587h1v2h-1zM23 582h1v2h-1zM24 580h1v2h-1zM25 578h1v2h-1zM26 576h1v2h-1zM27 574h1v2h-1zM28 572h1v2h-1zM29 570h1v2h-1zM30 568h1v2h-1zM44 566h1v2h-1zM45 568h1v2h-1zM46 570h1v2h-1zM64 569h1v2h-1zM66 572h1v2h-1zM79 575h1v2h-1zM80 577h1v2h-1zM81 579h1v2h-1zM82 581h1v2h-1zM83 583h1v2h-1zM84 585h1v4h-1zM85 589h1v3h-1zM86 592h1v4h-1zM87 596h1v2h-1zM93 598h1v2h-1zM96 599h1v2h-1zM97 597h1v2h-1zM98 595h1v2h-1zM109 594h1v2h-1zM124 597h1v2h-1zM125 599h1v2h-1zM126 601h1v2h-1zM151 605h1v2h-1zM152 603h1v2h-1zM153 600h1v3h-1zM154 598h1v2h-1zM155 596h1v2h-1zM161 597h1v2h-1zM173 595h1v2h-1zM181 598h1v2h-1zM207 606h1v2h-1zM208 604h1v2h-1zM209 601h1v3h-1zM210 599h1v2h-1zM211 597h1v2h-1zM224 599h1v2h-1zM226 596h1v2h-1zM227 595h1v2h-1zM228 597h1v2h-1zM229 599h1v2h-1zM230 601h1v2h-1zM231 603h1v2h-1zM241 602h1v2h-1zM263 596h1v2h-1zM264 598h1v2h-1zM265 600h1v2h-1zM266 602h1v2h-1zM269 606h1v2h-1zM292 604h1v2h-1zM293 606h1v2h-1zM294 608h1v2h-1zM312 612h1v2h-1zM313 614h1v2h-1zM314 616h1v2h-1zM347 619h1v2h-1zM348 616h1v3h-1zM349 613h1v3h-1zM350 610h1v3h-1zM351 608h1v2h-1zM391 609h1v2h-1zM392 607h1v2h-1zM393 605h1v2h-1zM395 602h1v2h-1zM397 599h1v2h-1zM413 599h1v2h-1zM463 600h1v2h-1zM464 602h1v2h-1zM465 604h1v2h-1zM466 606h1v2h-1zM484 607h1v2h-1zM485 609h1v2h-1zM486 611h1v2h-1zM496 616h1v2h-1zM497 614h1v2h-1zM498 612h1v2h-1zM515 614h1v2h-1zM516 612h1v2h-1zM517 610h1v2h-1zM518 608h1v2h-1zM519 606h1v2h-1zM521 608h1v2h-1zM536 612h1v2h-1zM537 614h1v2h-1zM538 616h1v2h-1zM543 614h1v2h-1zM544 611h1v3h-1zM545 609h1v2h-1zM546 606h1v3h-1zM547 604h1v2h-1zM635 617h1v2h-1zM636 615h1v2h-1zM637 612h1v3h-1zM638 610h1v2h-1zM639 608h1v2h-1zM649 612h1v2h-1zM651 609h1v2h-1zM652 606h1v3h-1zM653 604h1v2h-1zM654 601h1v3h-1zM655 599h1v2h-1zM695 598h1v2h-1zM696 596h1v2h-1zM697 594h1v2h-1zM698 592h1v2h-1zM699 590h1v2h-1zM727 584h1v2h-1zM728 586h1v3h-1zM729 589h1v2h-1zM730 591h1v3h-1zM731 594h1v2h-1zM756 601h1v2h-1zM758 604h1v2h-1zM759 606h1v2h-1zM760 608h1v2h-1zM761 610h1v2h-1zM762 612h1v2h-1zM779 609h1v2h-1zM780 606h1v3h-1zM781 604h1v2h-1zM782 601h1v3h-1zM783 599h1v2h-1zM785 601h1v2h-1zM815 606h1v2h-1zM816 604h1v2h-1zM817 602h1v2h-1zM818 600h1v2h-1zM819 598h1v2h-1zM820 599h1v2h-1zM822 602h1v2h-1zM823 603h1v2h-1zM824 599h1v4h-1zM825 596h1v3h-1zM826 592h1v4h-1zM827 590h1v2h-1zM844 596h1v3h-1zM845 599h1v4h-1zM846 603h1v4h-1zM847 607h1v3h-1zM852 608h1v2h-1zM854 611h1v2h-1zM869 613h1v2h-1zM889 603h1v2h-1zM917 605h1v2h-1zM953 620h1v2h-1zM973 621h1v2h-1zM975 623h1v2h-1zM976 621h1v2h-1zM977 619h1v2h-1zM978 617h1v2h-1zM1000 616h1v2h-1zM1001 614h1v2h-1zM1002 612h1v2h-1zM1007 608h1v2h-1zM1008 606h1v2h-1zM1009 604h1v2h-1zM1010 602h1v2h-1zM1012 599h1v2h-1zM1014 596h1v2h-1zM1016 596h1v2h-1zM1018 599h1v2h-1zM1033 603h1v2h-1zM1071 609h1v2h-1zM1072 607h1v2h-1zM1073 604h1v3h-1zM1074 602h1v2h-1zM1075 600h1v2h-1zM1085 609h1v2h-1zM1087 611h1v2h-1zM1088 609h1v2h-1zM1089 606h1v3h-1zM1090 604h1v2h-1zM1091 602h1v2h-1zM1103 603h1v2h-1zM1104 605h1v2h-1zM1105 607h1v2h-1zM1106 609h1v2h-1zM1111 610h1v2h-1zM1112 608h1v2h-1zM1113 606h1v2h-1zM1114 604h1v2h-1zM1128 602h1v2h-1zM1130 599h1v2h-1zM1160 595h1v2h-1zM1162 598h1v2h-1zM1193 608h1v2h-1zM1201 604h1v2h-1zM1207 602h1v2h-1zM1208 604h1v2h-1zM1209 606h1v3h-1zM1210 609h1v2h-1zM1211 611h1v2h-1zM1231 616h1v3h-1zM1232 612h1v4h-1zM1233 608h1v4h-1zM1234 604h1v4h-1zM1235 602h1v2h-1zM59 564h1v1h-1zM43 565h1v1h-1zM58 565h1v1h-1zM60 565h1v1h-1zM42 566h1v1h-1zM57 566h1v1h-1zM61 566h1v1h-1zM31 567h1v1h-1zM40 567h2v1h-2zM56 567h1v1h-1zM62 567h1v1h-1zM32 568h1v1h-1zM39 568h1v1h-1zM55 568h1v1h-1zM63 568h1v1h-1zM33 569h1v1h-1zM38 569h1v1h-1zM54 569h1v1h-1zM34 570h1v1h-1zM36 570h2v1h-2zM52 570h2v1h-2zM35 571h1v1h-1zM50 571h2v1h-2zM65 571h1v1h-1zM75 571h1v1h-1zM47 572h3v1h-3zM73 572h2v1h-2zM76 572h1v1h-1zM70 573h3v1h-3zM77 573h1v1h-1zM67 574h3v1h-3zM78 574h1v1h-1zM715 582h2v1h-2zM19 583h4v1h-4zM714 583h1v1h-1zM717 583h2v1h-2zM18 584h1v1h-1zM707 584h3v1h-3zM712 584h2v1h-2zM719 584h1v1h-1zM16 585h2v1h-2zM706 585h1v1h-1zM710 585h2v1h-2zM720 585h2v1h-2zM726 585h1v1h-1zM11 586h5v1h-5zM705 586h1v1h-1zM722 586h1v1h-1zM724 586h2v1h-2zM704 587h1v1h-1zM723 587h1v1h-1zM703 588h1v1h-1zM830 588h1v1h-1zM9 589h1v1h-1zM701 589h2v1h-2zM828 589h2v1h-2zM831 589h2v1h-2zM700 590h1v1h-1zM833 590h2v1h-2zM835 591h3v1h-3zM7 592h1v1h-1zM107 592h1v1h-1zM838 592h2v1h-2zM106 593h1v1h-1zM108 593h1v1h-1zM175 593h1v1h-1zM840 593h1v1h-1zM99 594h3v1h-3zM104 594h2v1h-2zM174 594h1v1h-1zM176 594h2v1h-2zM841 594h2v1h-2zM1147 594h5v1h-5zM1159 594h1v1h-1zM102 595h2v1h-2zM118 595h4v1h-4zM158 595h2v1h-2zM178 595h1v1h-1zM843 595h1v1h-1zM1015 595h1v1h-1zM1145 595h2v1h-2zM1152 595h1v1h-1zM1158 595h1v1h-1zM90 596h2v1h-2zM110 596h1v1h-1zM114 596h4v1h-4zM122 596h2v1h-2zM156 596h2v1h-2zM160 596h1v1h-1zM179 596h1v1h-1zM262 596h1v1h-1zM402 596h1v1h-1zM732 596h1v1h-1zM739 596h2v1h-2zM1135 596h1v1h-1zM1143 596h2v1h-2zM1153 596h1v1h-1zM1157 596h1v1h-1zM88 597h2v1h-2zM92 597h1v1h-1zM111 597h3v1h-3zM172 597h1v1h-1zM180 597h1v1h-1zM212 597h1v1h-1zM251 597h11v1h-11zM400 597h2v1h-2zM403 597h2v1h-2zM411 597h1v1h-1zM733 597h1v1h-1zM738 597h1v1h-1zM741 597h2v1h-2zM1133 597h2v1h-2zM1136 597h2v1h-2zM1142 597h1v1h-1zM1154 597h1v1h-1zM1156 597h1v1h-1zM1161 597h1v1h-1zM171 598h1v1h-1zM187 598h6v1h-6zM213 598h2v1h-2zM218 598h2v1h-2zM225 598h1v1h-1zM250 598h1v1h-1zM398 598h2v1h-2zM405 598h2v1h-2zM409 598h2v1h-2zM412 598h1v1h-1zM679 598h1v1h-1zM687 598h1v1h-1zM734 598h1v1h-1zM736 598h2v1h-2zM743 598h1v1h-1zM1013 598h1v1h-1zM1017 598h1v1h-1zM1131 598h2v1h-2zM1138 598h1v1h-1zM1140 598h2v1h-2zM1155 598h1v1h-1zM1239 598h1v1h-1zM162 599h1v1h-1zM169 599h2v1h-2zM186 599h1v1h-1zM193 599h2v1h-2zM215 599h3v1h-3zM220 599h2v1h-2zM249 599h1v1h-1zM407 599h2v1h-2zM670 599h3v1h-3zM678 599h1v1h-1zM680 599h1v1h-1zM686 599h1v1h-1zM688 599h2v1h-2zM735 599h1v1h-1zM744 599h2v1h-2zM884 599h1v1h-1zM1139 599h1v1h-1zM1238 599h1v1h-1zM1240 599h1v1h-1zM94 600h1v1h-1zM163 600h6v1h-6zM182 600h1v1h-1zM184 600h2v1h-2zM195 600h2v1h-2zM222 600h1v1h-1zM243 600h3v1h-3zM248 600h1v1h-1zM283 600h2v1h-2zM656 600h2v1h-2zM666 600h4v1h-4zM673 600h2v1h-2zM676 600h2v1h-2zM681 600h1v1h-1zM685 600h1v1h-1zM690 600h1v1h-1zM693 600h2v1h-2zM746 600h2v1h-2zM754 600h2v1h-2zM784 600h1v1h-1zM883 600h1v1h-1zM885 600h2v1h-2zM1123 600h1v1h-1zM1163 600h3v1h-3zM1237 600h1v1h-1zM1241 600h1v1h-1zM95 601h1v1h-1zM131 601h2v1h-2zM183 601h1v1h-1zM197 601h2v1h-2zM223 601h1v1h-1zM242 601h1v1h-1zM246 601h2v1h-2zM282 601h1v1h-1zM285 601h2v1h-2zM396 601h1v1h-1zM414 601h1v1h-1zM462 601h1v1h-1zM658 601h1v1h-1zM664 601h2v1h-2zM675 601h1v1h-1zM682 601h1v1h-1zM684 601h1v1h-1zM691 601h2v1h-2zM748 601h6v1h-6zM821 601h1v1h-1zM882 601h1v1h-1zM887 601h1v1h-1zM1011 601h1v1h-1zM1019 601h2v1h-2zM1031 601h1v1h-1zM1076 601h2v1h-2zM1099 601h2v1h-2zM1121 601h2v1h-2zM1124 601h1v1h-1zM1129 601h1v1h-1zM1166 601h4v1h-4zM1236 601h1v1h-1zM1242 601h1v1h-1zM129 602h2v1h-2zM133 602h4v1h-4zM199 602h1v1h-1zM281 602h1v1h-1zM287 602h3v1h-3zM415 602h1v1h-1zM450 602h7v1h-7zM461 602h1v1h-1zM475 602h5v1h-5zM659 602h5v1h-5zM683 602h1v1h-1zM881 602h1v1h-1zM888 602h1v1h-1zM1021 602h2v1h-2zM1029 602h2v1h-2zM1032 602h1v1h-1zM1078 602h1v1h-1zM1092 602h1v1h-1zM1098 602h1v1h-1zM1101 602h2v1h-2zM1118 602h3v1h-3zM1125 602h1v1h-1zM1170 602h2v1h-2zM1203 602h4v1h-4zM1243 602h1v1h-1zM1254 602h1v1h-1zM127 603h2v1h-2zM137 603h11v1h-11zM200 603h1v1h-1zM280 603h1v1h-1zM290 603h2v1h-2zM416 603h2v1h-2zM439 603h1v1h-1zM447 603h3v1h-3zM457 603h2v1h-2zM460 603h1v1h-1zM474 603h1v1h-1zM480 603h1v1h-1zM757 603h1v1h-1zM786 603h1v1h-1zM880 603h1v1h-1zM911 603h5v1h-5zM1023 603h6v1h-6zM1079 603h1v1h-1zM1093 603h2v1h-2zM1096 603h2v1h-2zM1115 603h3v1h-3zM1126 603h1v1h-1zM1172 603h2v1h-2zM1202 603h1v1h-1zM1244 603h2v1h-2zM1252 603h2v1h-2zM148 604h2v1h-2zM201 604h1v1h-1zM232 604h1v1h-1zM239 604h2v1h-2zM267 604h1v1h-1zM279 604h1v1h-1zM358 604h7v1h-7zM378 604h6v1h-6zM394 604h1v1h-1zM418 604h1v1h-1zM421 604h3v1h-3zM438 604h1v1h-1zM440 604h1v1h-1zM446 604h1v1h-1zM459 604h1v1h-1zM473 604h1v1h-1zM481 604h1v1h-1zM548 604h2v1h-2zM787 604h3v1h-3zM879 604h1v1h-1zM895 604h2v1h-2zM903 604h2v1h-2zM910 604h1v1h-1zM916 604h1v1h-1zM1080 604h1v1h-1zM1095 604h1v1h-1zM1127 604h1v1h-1zM1174 604h1v1h-1zM1246 604h1v1h-1zM1250 604h2v1h-2zM150 605h1v1h-1zM202 605h1v1h-1zM233 605h2v1h-2zM237 605h2v1h-2zM268 605h1v1h-1zM277 605h2v1h-2zM356 605h2v1h-2zM365 605h2v1h-2zM375 605h3v1h-3zM384 605h1v1h-1zM419 605h2v1h-2zM424 605h2v1h-2zM437 605h1v1h-1zM441 605h1v1h-1zM445 605h1v1h-1zM472 605h1v1h-1zM482 605h1v1h-1zM550 605h2v1h-2zM790 605h3v1h-3zM877 605h2v1h-2zM890 605h1v1h-1zM893 605h2v1h-2zM897 605h2v1h-2zM901 605h2v1h-2zM905 605h2v1h-2zM908 605h2v1h-2zM1034 605h1v1h-1zM1081 605h1v1h-1zM1175 605h1v1h-1zM1247 605h3v1h-3zM203 606h3v1h-3zM235 606h2v1h-2zM275 606h2v1h-2zM354 606h2v1h-2zM367 606h1v1h-1zM373 606h2v1h-2zM385 606h1v1h-1zM426 606h8v1h-8zM436 606h1v1h-1zM442 606h1v1h-1zM444 606h1v1h-1zM471 606h1v1h-1zM483 606h1v1h-1zM552 606h2v1h-2zM793 606h2v1h-2zM876 606h1v1h-1zM891 606h2v1h-2zM899 606h2v1h-2zM907 606h1v1h-1zM1035 606h1v1h-1zM1082 606h1v1h-1zM1176 606h2v1h-2zM1187 606h5v1h-5zM1200 606h1v1h-1zM206 607h1v1h-1zM274 607h1v1h-1zM352 607h2v1h-2zM368 607h5v1h-5zM386 607h1v1h-1zM434 607h2v1h-2zM443 607h1v1h-1zM469 607h2v1h-2zM520 607h1v1h-1zM554 607h1v1h-1zM795 607h1v1h-1zM811 607h4v1h-4zM851 607h1v1h-1zM875 607h1v1h-1zM918 607h1v1h-1zM1036 607h1v1h-1zM1083 607h1v1h-1zM1178 607h1v1h-1zM1185 607h2v1h-2zM1192 607h1v1h-1zM1199 607h1v1h-1zM270 608h1v1h-1zM272 608h2v1h-2zM387 608h2v1h-2zM467 608h2v1h-2zM531 608h1v1h-1zM555 608h1v1h-1zM796 608h2v1h-2zM809 608h2v1h-2zM849 608h2v1h-2zM874 608h1v1h-1zM919 608h2v1h-2zM1037 608h1v1h-1zM1084 608h1v1h-1zM1179 608h6v1h-6zM1198 608h1v1h-1zM271 609h1v1h-1zM389 609h2v1h-2zM530 609h1v1h-1zM532 609h2v1h-2zM556 609h1v1h-1zM640 609h2v1h-2zM798 609h2v1h-2zM802 609h7v1h-7zM848 609h1v1h-1zM873 609h1v1h-1zM921 609h2v1h-2zM926 609h2v1h-2zM1038 609h1v1h-1zM1197 609h1v1h-1zM295 610h1v1h-1zM307 610h3v1h-3zM522 610h1v1h-1zM528 610h2v1h-2zM534 610h1v1h-1zM557 610h2v1h-2zM603 610h2v1h-2zM642 610h1v1h-1zM778 610h1v1h-1zM800 610h2v1h-2zM853 610h1v1h-1zM872 610h1v1h-1zM923 610h3v1h-3zM928 610h2v1h-2zM1005 610h2v1h-2zM1039 610h3v1h-3zM1051 610h5v1h-5zM1063 610h1v1h-1zM1194 610h1v1h-1zM1196 610h1v1h-1zM1215 610h4v1h-4zM296 611h2v1h-2zM306 611h1v1h-1zM310 611h2v1h-2zM499 611h5v1h-5zM523 611h5v1h-5zM535 611h1v1h-1zM559 611h1v1h-1zM602 611h1v1h-1zM605 611h2v1h-2zM643 611h1v1h-1zM650 611h1v1h-1zM775 611h3v1h-3zM871 611h1v1h-1zM930 611h1v1h-1zM934 611h3v1h-3zM1003 611h2v1h-2zM1042 611h3v1h-3zM1050 611h1v1h-1zM1056 611h2v1h-2zM1062 611h1v1h-1zM1064 611h2v1h-2zM1070 611h1v1h-1zM1086 611h1v1h-1zM1107 611h4v1h-4zM1195 611h1v1h-1zM1213 611h2v1h-2zM1219 611h3v1h-3zM298 612h3v1h-3zM304 612h2v1h-2zM504 612h2v1h-2zM560 612h1v1h-1zM571 612h5v1h-5zM601 612h1v1h-1zM607 612h1v1h-1zM644 612h1v1h-1zM774 612h1v1h-1zM870 612h1v1h-1zM931 612h3v1h-3zM937 612h2v1h-2zM1045 612h2v1h-2zM1048 612h2v1h-2zM1058 612h1v1h-1zM1060 612h2v1h-2zM1066 612h1v1h-1zM1068 612h2v1h-2zM1212 612h1v1h-1zM1222 612h2v1h-2zM301 613h3v1h-3zM487 613h2v1h-2zM506 613h1v1h-1zM561 613h2v1h-2zM570 613h1v1h-1zM576 613h2v1h-2zM595 613h3v1h-3zM600 613h1v1h-1zM608 613h1v1h-1zM645 613h1v1h-1zM766 613h4v1h-4zM772 613h2v1h-2zM855 613h9v1h-9zM939 613h8v1h-8zM1047 613h1v1h-1zM1059 613h1v1h-1zM1067 613h1v1h-1zM1224 613h2v1h-2zM489 614h2v1h-2zM507 614h3v1h-3zM563 614h2v1h-2zM569 614h1v1h-1zM578 614h2v1h-2zM594 614h1v1h-1zM598 614h2v1h-2zM609 614h1v1h-1zM646 614h1v1h-1zM648 614h1v1h-1zM763 614h3v1h-3zM770 614h2v1h-2zM864 614h2v1h-2zM947 614h1v1h-1zM1226 614h1v1h-1zM491 615h1v1h-1zM510 615h5v1h-5zM565 615h2v1h-2zM568 615h1v1h-1zM580 615h2v1h-2zM592 615h2v1h-2zM610 615h1v1h-1zM647 615h1v1h-1zM866 615h1v1h-1zM868 615h1v1h-1zM948 615h1v1h-1zM995 615h1v1h-1zM1227 615h1v1h-1zM492 616h2v1h-2zM542 616h1v1h-1zM567 616h1v1h-1zM582 616h4v1h-4zM590 616h2v1h-2zM611 616h2v1h-2zM867 616h1v1h-1zM949 616h1v1h-1zM979 616h9v1h-9zM994 616h1v1h-1zM996 616h2v1h-2zM1228 616h2v1h-2zM494 617h1v1h-1zM540 617h2v1h-2zM586 617h4v1h-4zM613 617h2v1h-2zM950 617h1v1h-1zM988 617h2v1h-2zM993 617h1v1h-1zM998 617h1v1h-1zM1230 617h1v1h-1zM315 618h1v1h-1zM344 618h1v1h-1zM495 618h1v1h-1zM539 618h1v1h-1zM615 618h7v1h-7zM951 618h1v1h-1zM990 618h1v1h-1zM992 618h1v1h-1zM999 618h1v1h-1zM316 619h1v1h-1zM343 619h1v1h-1zM345 619h2v1h-2zM622 619h2v1h-2zM634 619h1v1h-1zM952 619h1v1h-1zM971 619h1v1h-1zM991 619h1v1h-1zM317 620h1v1h-1zM327 620h1v1h-1zM342 620h1v1h-1zM624 620h1v1h-1zM633 620h1v1h-1zM963 620h3v1h-3zM969 620h2v1h-2zM972 620h1v1h-1zM318 621h3v1h-3zM325 621h2v1h-2zM328 621h2v1h-2zM340 621h2v1h-2zM625 621h1v1h-1zM632 621h1v1h-1zM962 621h1v1h-1zM966 621h3v1h-3zM321 622h4v1h-4zM330 622h1v1h-1zM333 622h4v1h-4zM339 622h1v1h-1zM626 622h1v1h-1zM630 622h2v1h-2zM954 622h1v1h-1zM961 622h1v1h-1zM331 623h2v1h-2zM337 623h2v1h-2zM627 623h3v1h-3zM955 623h3v1h-3zM960 623h1v1h-1zM974 623h1v1h-1zM958 624h2v1h-2z"/>
</g>
<g clip-path="url(#cd)">
<path fill="#c0c0c0" d="M3 707h1V713h-1zM7 706h1V713h-1zM11 706h1V713h-1zM15 705h1V713h-1zM19 704h1V713h-1zM23 704h1V713h-1zM27 702h1V713h-1zM31 697h1V713h-1zM35 694h1V713h-1zM39 690h1V713h-1zM43 685h1V713h-1zM47 683h1V713h-1zM51 681h1V713h-1zM55 676h1V713h-1zM59 668h1V713h-1zM63 662h1V713h-1zM67 660h1V713h-1zM71 658h1V713h-1zM75 657h1V713h-1zM79 658h1V713h-1zM83 662h1V713h-1zM87 666h1V713h-1zM91 672h1V713h-1zM95 678h1V713h-1zM99 680h1V713h-1zM103 683h1V713h-1zM107 684h1V713h-1zM111 687h1V713h-1zM115 689h1V713h-1zM119 691h1V713h-1zM123 693h1V713h-1zM127 697h1V713h-1zM131 700h1V713h-1zM135 703h1V713h-1zM139 705h1V713h-1zM143 707h1V713h-1zM147 709h1V713h-1zM151 711h1V713h-1zM155 710h1V713h-1zM159 709h1V713h-1zM163 709h1V713h-1zM167 710h1V713h-1zM171 709h1V713h-1zM175 708h1V713h-1zM179 708h1V713h-1zM183 708h1V713h-1zM187 708h1V713h-1zM191 709h1V713h-1zM195 709h1V713h-1zM199 711h1V713h-1zM203 712h1V713h-1zM207 712h1V715h-1zM211 712h1V714h-1zM215 712h1V714h-1zM219 712h1V713h-1zM223 712h1V714h-1zM227 712h1V714h-1zM231 712h1V714h-1zM235 712h1V715h-1zM239 712h1V716h-1zM243 712h1V714h-1zM247 712h1V714h-1zM251 712h1V713h-1zM255 712h1V714h-1zM259 712h1V713h-1zM263 711h1V713h-1zM267 712h1V713h-1zM271 712h1V714h-1zM275 712h1V715h-1zM279 712h1V717h-1zM283 712h1V715h-1zM287 712h1V714h-1zM291 712h1V716h-1zM295 712h1V718h-1zM299 712h1V721h-1zM303 712h1V723h-1zM307 712h1V723h-1zM311 712h1V724h-1zM315 712h1V728h-1zM319 712h1V731h-1zM323 712h1V734h-1zM327 712h1V736h-1zM331 712h1V738h-1zM335 712h1V740h-1zM339 712h1V742h-1zM343 712h1V742h-1zM347 712h1V742h-1zM351 712h1V740h-1zM355 712h1V737h-1zM359 712h1V734h-1zM363 712h1V732h-1zM367 712h1V731h-1zM371 712h1V729h-1zM375 712h1V728h-1zM379 712h1V726h-1zM383 712h1V725h-1zM387 712h1V724h-1zM391 712h1V725h-1zM395 712h1V723h-1zM399 712h1V721h-1zM403 712h1V719h-1zM407 712h1V718h-1zM411 712h1V716h-1zM415 712h1V716h-1zM419 712h1V716h-1zM423 712h1V717h-1zM427 712h1V717h-1zM431 712h1V717h-1zM435 712h1V717h-1zM439 712h1V717h-1zM443 712h1V717h-1zM447 712h1V717h-1zM451 712h1V717h-1zM455 712h1V717h-1zM459 712h1V717h-1zM463 712h1V717h-1zM467 712h1V717h-1zM471 712h1V717h-1zM475 712h1V717h-1zM479 712h1V717h-1zM483 712h1V717h-1zM487 712h1V718h-1zM491 712h1V720h-1zM495 712h1V722h-1zM499 712h1V722h-1zM503 712h1V722h-1zM507 712h1V723h-1zM511 712h1V724h-1zM515 712h1V723h-1zM519 712h1V723h-1zM523 712h1V723h-1zM527 712h1V723h-1zM531 712h1V723h-1zM535 712h1V723h-1zM539 712h1V724h-1zM543 712h1V725h-1zM547 712h1V724h-1zM551 712h1V723h-1zM555 712h1V723h-1zM559 712h1V723h-1zM563 712h1V724h-1zM567 712h1V725h-1zM571 712h1V725h-1zM575 712h1V725h-1zM579 712h1V725h-1zM583 712h1V726h-1zM587 712h1V726h-1zM591 712h1V726h-1zM595 712h1V726h-1zM599 712h1V726h-1zM603 712h1V726h-1zM607 712h1V726h-1zM611 712h1V726h-1zM615 712h1V727h-1zM619 712h1V727h-1zM623 712h1V727h-1zM627 712h1V728h-1zM631 712h1V728h-1zM635 712h1V728h-1zM639 712h1V727h-1zM643 712h1V727h-1zM647 712h1V726h-1zM651 712h1V725h-1zM655 712h1V723h-1zM659 712h1V722h-1zM663 712h1V721h-1zM667 712h1V719h-1zM671 712h1V718h-1zM675 712h1V717h-1zM679 712h1V716h-1zM683 712h1V716h-1zM687 712h1V715h-1zM691 712h1V714h-1zM695 712h1V714h-1zM699 712h1V714h-1zM703 711h1V713h-1zM707 708h1V713h-1zM711 707h1V713h-1zM715 705h1V713h-1zM719 704h1V713h-1zM723 703h1V713h-1zM727 703h1V713h-1zM731 703h1V713h-1zM735 704h1V713h-1zM739 705h1V713h-1zM743 706h1V713h-1zM747 707h1V713h-1zM751 708h1V713h-1zM755 709h1V713h-1zM759 710h1V713h-1zM763 712h1V713h-1zM767 712h1V715h-1zM771 712h1V717h-1zM775 712h1V718h-1zM779 712h1V718h-1zM783 712h1V717h-1zM787 712h1V716h-1zM791 712h1V717h-1zM795 712h1V717h-1zM799 712h1V718h-1zM803 712h1V719h-1zM807 712h1V719h-1zM811 712h1V719h-1zM815 712h1V719h-1zM819 712h1V718h-1zM823 712h1V717h-1zM827 712h1V715h-1zM831 712h1V713h-1zM835 711h1V713h-1zM839 710h1V713h-1zM843 709h1V713h-1zM847 712h1V713h-1zM851 712h1V713h-1zM855 712h1V715h-1zM859 712h1V718h-1zM863 712h1V720h-1zM867 712h1V722h-1zM871 712h1V723h-1zM875 712h1V722h-1zM879 712h1V721h-1zM883 712h1V720h-1zM887 712h1V720h-1zM891 712h1V720h-1zM895 712h1V719h-1zM899 712h1V719h-1zM903 712h1V719h-1zM907 712h1V719h-1zM911 712h1V719h-1zM915 712h1V719h-1zM919 712h1V719h-1zM923 712h1V719h-1zM927 712h1V719h-1zM931 712h1V720h-1zM935 712h1V720h-1zM939 712h1V721h-1zM943 712h1V721h-1zM947 712h1V722h-1zM951 712h1V723h-1zM955 712h1V725h-1zM959 712h1V727h-1zM963 712h1V728h-1zM967 712h1V728h-1zM971 712h1V729h-1zM975 712h1V730h-1zM979 712h1V730h-1zM983 712h1V730h-1zM987 712h1V729h-1zM991 712h1V729h-1zM995 712h1V729h-1zM999 712h1V728h-1zM1003 712h1V728h-1zM1007 712h1V727h-1zM1011 712h1V725h-1zM1015 712h1V722h-1zM1019 712h1V721h-1zM1023 712h1V720h-1zM1027 712h1V719h-1zM1031 712h1V718h-1zM1035 712h1V718h-1zM1039 712h1V719h-1zM1043 712h1V720h-1zM1047 712h1V720h-1zM1051 712h1V721h-1zM1055 712h1V721h-1zM1059 712h1V721h-1zM1063 712h1V721h-1zM1067 712h1V721h-1zM1071 712h1V721h-1zM1075 712h1V720h-1zM1079 712h1V720h-1zM1083 712h1V720h-1zM1087 712h1V721h-1zM1091 712h1V720h-1zM1095 712h1V719h-1zM1099 712h1V719h-1zM1103 712h1V719h-1zM1107 712h1V719h-1zM1111 712h1V720h-1zM1115 712h1V720h-1zM1119 712h1V719h-1zM1123 712h1V719h-1zM1127 712h1V718h-1zM1131 712h1V717h-1zM1135 712h1V715h-1zM1139 712h1V714h-1zM1143 712h1V713h-1zM1147 712h1V713h-1zM1151 711h1V713h-1zM1155 711h1V713h-1zM1159 710h1V713h-1zM1163 711h1V713h-1zM1167 711h1V713h-1zM1171 712h1V713h-1zM1175 712h1V713h-1zM1179 712h1V714h-1zM1183 712h1V715h-1zM1187 712h1V715h-1zM1191 712h1V716h-1zM1195 712h1V717h-1zM1199 712h1V717h-1zM1203 712h1V717h-1zM1207 712h1V717h-1zM1211 712h1V718h-1zM1215 712h1V719h-1zM1219 712h1V720h-1zM1223 712h1V721h-1zM1227 712h1V721h-1zM1231 712h1V722h-1zM1235 712h1V721h-1zM1239 712h1V720h-1zM1243 712h1V719h-1zM1247 712h1V719h-1zM1251 712h1V719h-1zM1255 712h1V718h-1z"/>
<polyline shape-rendering="crispEdges" fill="none" stroke="#ff0000" stroke-width="1" stroke-dasharray="3,3" points="3,707.6 13.6,705.6 23.7,704.5 27.8,703.6 33.9,701.5 39.3,700.9 46,695.4 51.5,692 58.3,686 63.7,680.5 70.5,674.4 76,669 81.4,664.2 86.8,662.5 95,662.9 100.4,665.6 107,670.3 114,675.8 119.4,679.8 124.8,684.2 131.6,689.3 137,692.3 142.4,695.4 148.5,699.5 154.6,702.9 160.7,705.3 166,707 171.6,708.3 183,708.3 196.7,708.6 200,708.6 208.3,709.5 216.6,710.5 225,711.3 238.3,712.5 250,713.3 263.3,713.3 275,713.6 286.6,713.6 293.2,714.5 300,716.3 306.5,718 314.9,720 322.4,723 328.2,726.3 334.8,730 340.7,733.3 346.5,736 352.3,737.8 358,738.6 364.8,738 370.6,736.6 376.5,733.6 383,730.4 389,728.6 394.8,726.6 400.6,724.6 406.4,722.5 412.3,721.3 418,719.5 424,718.6 429.7,716.3 441.4,716.3 465,716.3 490,716.3 496.6,717.5 503.3,719 510,719.6 515,720.8 521.6,721.6 528.3,722.5 538.2,722.8 545,723.3 551.6,723.3 558.2,722.8 564.9,722.8 571.5,723.6 581.5,723.6 587.4,724.6 598.2,725.3 614.8,725.3 631.5,725.4 639.8,726.3 651.4,726.3 656.4,725.3 663,724.6 669.8,722.5 676.4,720.8 683,719.5 688.9,718.3 694.7,716.3 700.6,715 706.4,713.3 712.2,711.3 718,709.6 723.9,707.5 729.7,705.5 736.7,704.6 750,704.6 760,705.8 766.6,708.3 773.3,710.3 778.3,712.5 785,713.8 791.6,715.5 798.3,716.6 803.2,717.5 816.6,717.5 830,717 836.5,714.6 843.2,713.6 849.9,712.8 863.2,712.5 869,713.8 874.8,716.6 879.8,718.6 886.5,719.6 904.8,719.6 911.5,718.6 928,718.6 941.4,719 953,720.3 959.7,722 966.4,723 971.4,724.6 978,725.8 984.7,727.8 991.4,728 995,728.6 1006.7,728.6 1011.6,727.8 1016.6,725.3 1023.3,724.6 1030,722.5 1036.6,721.3 1041.6,719.6 1061.6,719.6 1071.6,720.5 1091.6,720.5 1098.2,719.6 1108.2,718.6 1131.5,718.6 1138.2,717.5 1143.2,717 1149.8,714.5 1156.5,713.6 1163,712.5 1169.8,711.6 1186.4,711.6 1193,712.8 1199.8,713.8 1204.8,714.6 1211.4,715.5 1218,716.6 1223,717.5 1228,718 1234.7,718.8 1241.4,718.6 1248,719.6 1254.7,719.6"/>
</g>
</svg>
<svg width="1622" height="40" viewBox="0 0 1622 40"><path d="M1257.5 24 L1267.5 24 L1262.5 29 Z" fill="#c0c0c0"/></svg>
<svg width="20" height="40" viewBox="0 0 20 40"><path d="M6 29 L13 29 L9.5 33 Z" fill="#000"/></svg>
<div class="lbl" style="left:17.5px;top:27px;transform:scaleX(0.985)">USDCAD,Daily</div>
<div class="lbl" style="left:89.5px;top:27px;transform:scaleX(0.924)">1.26273 1.26739 1.26058 1.26606</div>
<div class="lbl" style="left:6.5px;top:557px">RSI(14) 49.0748</div>
<div class="lbl" style="left:6.5px;top:655px">MACD(12,26,9) -0.002544 -0.003570</div>
<div class="tick" style="top:52px"></div>
<div class="ax" style="top:48px">1.46520</div>
<div class="tick" style="top:85px"></div>
<div class="ax" style="top:81px">1.45040</div>
<div class="tick" style="top:118px"></div>
<div class="ax" style="top:114px">1.43560</div>
<div class="tick" style="top:151px"></div>
<div class="ax" style="top:147px">1.42080</div>
<div class="tick" style="top:184px"></div>
<div class="ax" style="top:180px">1.40600</div>
<div class="tick" style="top:217px"></div>
<div class="ax" style="top:213px">1.39080</div>
<div class="tick" style="top:250px"></div>
<div class="ax" style="top:246px">1.37600</div>
<div class="tick" style="top:283px"></div>
<div class="ax" style="top:279px">1.36120</div>
<div class="tick" style="top:316px"></div>
<div class="ax" style="top:312px">1.34640</div>
<div class="tick" style="top:349px"></div>
<div class="ax" style="top:345px">1.33160</div>
<div class="tick" style="top:382px"></div>
<div class="ax" style="top:378px">1.31680</div>
<div class="tick" style="top:415px"></div>
<div class="ax" style="top:411px">1.30160</div>
<div class="tick" style="top:448px"></div>
<div class="ax" style="top:444px">1.28680</div>
<div class="tick" style="top:481px"></div>
<div class="ax" style="top:477px">1.27200</div>
<div class="tick" style="top:514px"></div>
<div class="ax" style="top:510px">1.25720</div>
<div class="tick" style="top:547px"></div>
<div class="ax" style="top:543px">1.24240</div>
<div class="ax" style="left:1582.5px;top:555px">100</div>
<div class="ax" style="left:1582.5px;top:579px">70</div>
<div class="ax" style="left:1582.5px;top:616px">30</div>
<div class="ax" style="left:1582.5px;top:637px">0</div>
<div class="ax" style="left:1582.5px;top:653px">0.032972</div>
<div class="ax" style="left:1582.5px;top:709px">0.00</div>
<div class="ax" style="left:1582.5px;top:735px">-0.018154</div>
<div class="tick" style="top:554px;width:1px"></div>
<div class="tick" style="top:647px;width:1px"></div>
<div class="tick" style="top:652px;width:1px"></div>
<div class="tick" style="top:712px;width:1px"></div>
<div class="tick" style="top:745px;width:1px"></div>
<div class="plab" style="top:489px;background:#000"><span style="top:2px">1.26606</span></div>
<div class="plab" style="top:363px;background:#ff0000"><span>1.32258</span></div>
<div class="plab" style="top:404px;background:#ff0000"><span>1.30415</span></div>
<div class="plab" style="top:444px;background:#00ff00"><span>1.28616</span></div>
<div class="plab" style="top:491px;background:#0000ff"><span>1.26503</span></div>
<div class="plab" style="top:524px;background:#0000ff"><span>1.25019</span></div>
<div class="dtick" style="left:3px"></div>
<div class="dt" style="left:2px">2 Mar 2020</div>
<div class="dtick" style="left:67px"></div>
<div class="dt" style="left:66px">20 Mar 2020</div>
<div class="dtick" style="left:131px"></div>
<div class="dt" style="left:130px">8 Apr 2020</div>
<div class="dtick" style="left:195px"></div>
<div class="dt" style="left:194px">27 Apr 2020</div>
<div class="dtick" style="left:259px"></div>
<div class="dt" style="left:258px">15 May 2020</div>
<div class="dtick" style="left:323px"></div>
<div class="dt" style="left:322px">3 Jun 2020</div>
<div class="dtick" style="left:387px"></div>
<div class="dt" style="left:386px">22 Jun 2020</div>
<div class="dtick" style="left:451px"></div>
<div class="dt" style="left:450px">10 Jul 2020</div>
<div class="dtick" style="left:515px"></div>
<div class="dt" style="left:514px">29 Jul 2020</div>
<div class="dtick" style="left:579px"></div>
<div class="dt" style="left:578px">17 Aug 2020</div>
<div class="dtick" style="left:643px"></div>
<div class="dt" style="left:642px">4 Sep 2020</div>
<div class="dtick" style="left:707px"></div>
<div class="dt" style="left:706px">23 Sep 2020</div>
<div class="dtick" style="left:771px"></div>
<div class="dt" style="left:770px">12 Oct 2020</div>
<div class="dtick" style="left:835px"></div>
<div class="dt" style="left:834px">30 Oct 2020</div>
<div class="dtick" style="left:899px"></div>
<div class="dt" style="left:898px">18 Nov 2020</div>
<div class="dtick" style="left:963px"></div>
<div class="dt" style="left:962px">7 Dec 2020</div>
<div class="dtick" style="left:1027px"></div>
<div class="dt" style="left:1026px">25 Dec 2020</div>
<div class="dtick" style="left:1091px"></div>
<div class="dt" style="left:1090px">15 Jan 2021</div>
<div class="dtick" style="left:1155px"></div>
<div class="dt" style="left:1154px">3 Feb 2021</div>
<div class="dtick" style="left:1219px"></div>
<div class="dt" style="left:1218px">22 Feb 2021</div>
<div id="tabs"><div class="top1"></div><div class="top2"></div><div class="act"></div>
<div class="t" style="left:15.5px;transform:scaleX(1.003);">EURUSD,Daily</div>
<div class="t" style="left:117.3px;transform:scaleX(1.019);">USDCHF,Daily</div>
<div class="t" style="left:218.2px;transform:scaleX(1.034);">AUDUSD,Daily</div>
<div class="t" style="left:322.6px;transform:scaleX(1.009);color:#000;">USDCAD,Daily</div>
<div class="t" style="left:425.7px;transform:scaleX(1.032);">USDCNH,Daily</div>
<div class="t" style="left:531.6px;transform:scaleX(1.003);">EURUSD,Daily</div>
<div class="t" style="left:635.5px;transform:scaleX(0.993);">GBPUSD,H4</div>
<div class="t" style="left:726.4px;transform:scaleX(1.016);">XAUUSD,H1</div>
<div class="t" style="left:818.7px;transform:scaleX(1.039);">HK50,H1</div>
<div class="t" style="left:890.5px;transform:scaleX(1.042);">UK100,H1</div>
<div class="t" style="left:970.6px;transform:scaleX(1.042);">UK100,H1</div>
<div class="t" style="left:1050.7px;transform:scaleX(0.994);">GER30,H1</div>
<div class="t" style="left:1129.6px;transform:scaleX(0.984);">FRA40,H1</div>
<div class="t" style="left:1205.4px;transform:scaleX(1.045);">USOil,Daily</div>
<div class="t" style="left:1289.5px;transform:scaleX(0.983);">USDJPY,H1</div>
<div class="t" style="left:1373.6px;transform:scaleX(1.032);">DJ30,Daily</div>
<div class="t" style="left:1453.5px;transform:scaleX(1.047);">CHINA300,H1</div>
<div class="t" style="left:1553.6px;transform:scaleX(1.012);">USOil,</div>
<div class="s" style="left:108px"></div>
<div class="s" style="left:208px"></div>
<div class="s" style="left:520px"></div>
<div class="s" style="left:624px"></div>
<div class="s" style="left:716px"></div>
<div class="s" style="left:808px"></div>
<div class="s" style="left:880px"></div>
<div class="s" style="left:960px"></div>
<div class="s" style="left:1040px"></div>
<div class="s" style="left:1120px"></div>
<div class="s" style="left:1196px"></div>
<div class="s" style="left:1280px"></div>
<div class="s" style="left:1364px"></div>
<div class="s" style="left:1444px"></div>
<div class="s" style="left:1544px"></div>
<svg width="1622" height="22" viewBox="0 0 1622 22"><path d="M1598.2 8 L1598.2 14 L1594.8 11 Z" fill="#9a9a9a"/><path d="M1614 7.5 L1614 14.5 L1617.5 11 Z" fill="#000"/></svg>
</div>
</body></html>
